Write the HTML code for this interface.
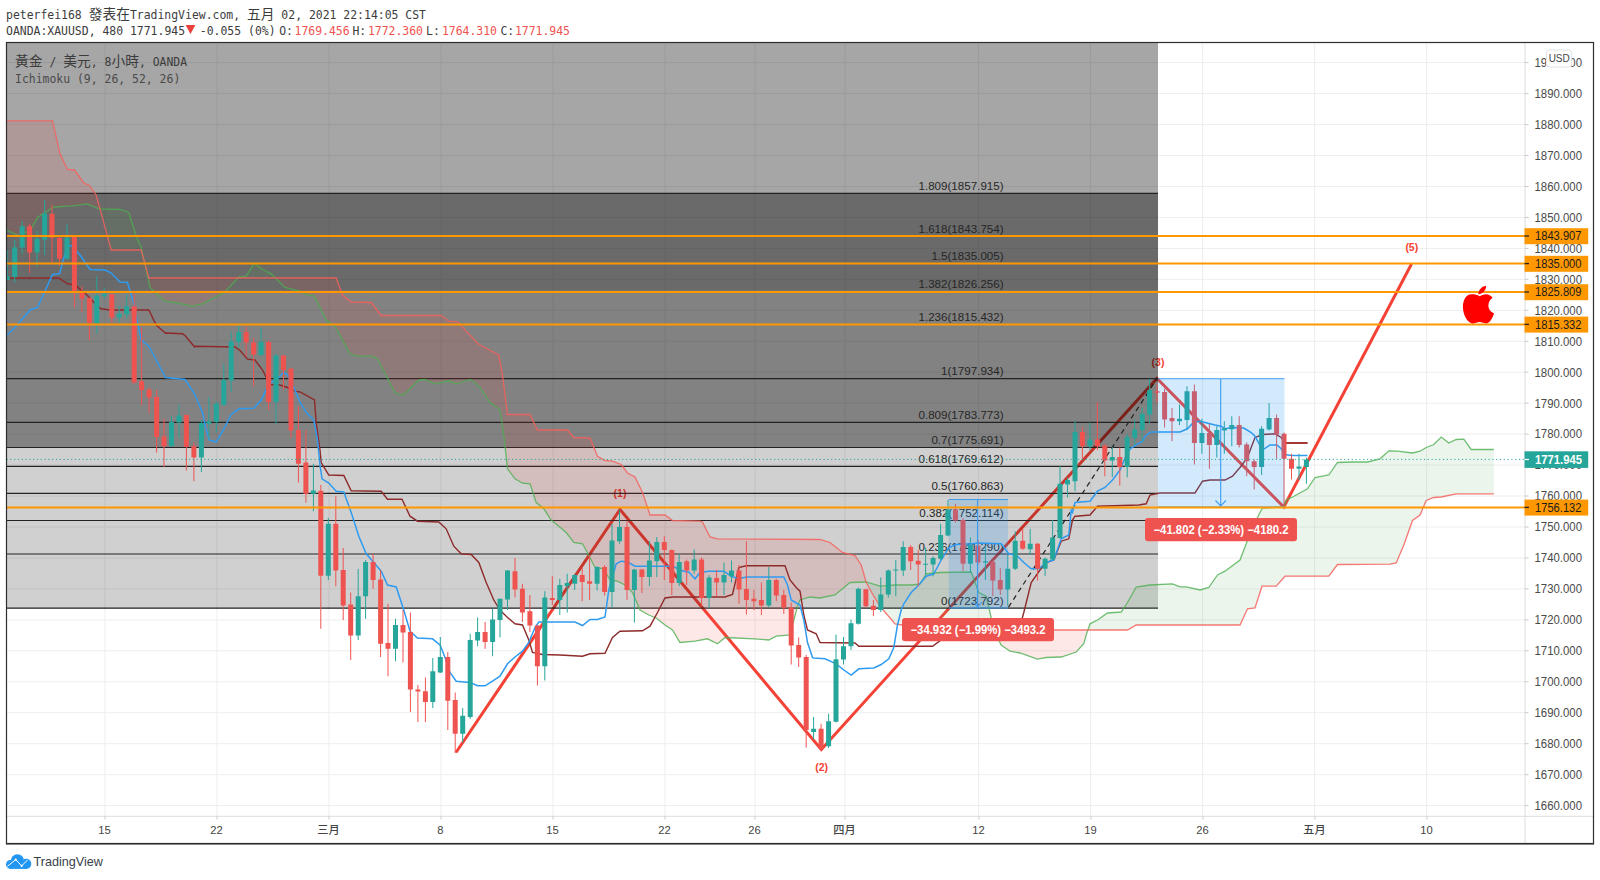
<!DOCTYPE html>
<html lang="zh-Hant"><head><meta charset="utf-8"><title>XAUUSD chart</title>
<style>html,body{margin:0;padding:0;background:#fff}body{width:1600px;height:880px;overflow:hidden}svg{display:block}</style>
</head><body>
<svg width="1600" height="880" viewBox="0 0 1600 880">
<defs><clipPath id="pane"><rect x="6.5" y="42.5" width="1518.5" height="773.8"/></clipPath></defs>
<rect width="1600" height="880" fill="#fff"/>
<path d="M105 42.5V816.3M217 42.5V816.3M329 42.5V816.3M441 42.5V816.3M553 42.5V816.3M665 42.5V816.3M755 42.5V816.3M845 42.5V816.3M978.6 42.5V816.3M1090.6 42.5V816.3M1202.6 42.5V816.3M1314.6 42.5V816.3M1426.6 42.5V816.3M6.5 805.6H1525M6.5 774.7H1525M6.5 743.7H1525M6.5 712.7H1525M6.5 681.8H1525M6.5 650.8H1525M6.5 619.9H1525M6.5 588.9H1525M6.5 558H1525M6.5 527H1525M6.5 496H1525M6.5 465.1H1525M6.5 434.1H1525M6.5 403.2H1525M6.5 372.2H1525M6.5 341.3H1525M6.5 310.3H1525M6.5 279.3H1525M6.5 248.4H1525M6.5 217.4H1525M6.5 186.5H1525M6.5 155.5H1525M6.5 124.6H1525M6.5 93.6H1525M6.5 62.6H1525" stroke="#eeeeee" stroke-width="1" fill="none"/>
<g clip-path="url(#pane)">
<polyline points="456,752.5 620,509.5 821.3,749.5 1157,378.5 1283.8,507 1411.5,264" fill="none" stroke="#f44336" stroke-width="3" stroke-linejoin="miter"/>
<text x="620" y="496.5" text-anchor="middle" font-family="'Liberation Sans', 'Noto Sans CJK TC', sans-serif" font-size="10.5" font-weight="bold" fill="#f44336">(1)</text>
<text x="1158" y="366" text-anchor="middle" font-family="'Liberation Sans', 'Noto Sans CJK TC', sans-serif" font-size="10.5" font-weight="bold" fill="#f44336">(3)</text>
<rect x="6.5" y="42.5" width="1151.5" height="150.8" fill="#000" fill-opacity="0.35"/>
<rect x="6.5" y="193.3" width="1151.5" height="97.6" fill="#000" fill-opacity="0.585"/>
<rect x="6.5" y="290.9" width="1151.5" height="156.5" fill="#000" fill-opacity="0.49"/>
<rect x="6.5" y="447.5" width="1151.5" height="160.7" fill="#000" fill-opacity="0.185"/>
<path d="M6.5 193.3H1158M6.5 378.6H1158M6.5 422.4H1158M6.5 447.5H1158M6.5 466.3H1158M6.5 493.4H1158M6.5 520.5H1158M6.5 554H1158M6.5 608.1H1158" stroke="#222" stroke-width="1.2" fill="none"/>
<line x1="1008.5" y1="607.1" x2="1157" y2="378.6" stroke="#222" stroke-width="1.2" stroke-dasharray="5 4"/>
<polygon points="6.5,230 7.5,230.5 8.5,230.9 9.5,231.4 10.5,231.9 11.5,232.3 12.5,232.8 13.5,233.2 14.5,233.7 15.5,234.2 16.5,234.6 17.5,235.1 18.5,235.6 19.5,236 20,236.2 20.5,235.9 21.5,235.2 22.5,234.6 23.5,233.9 24.5,233.2 25.5,232.6 26.5,231.9 27.5,231.2 28.5,230.6 29.5,229.9 30.5,229.2 31.2,228.8 31.5,228.3 32.5,226.5 33.5,224.7 34.5,222.9 35.5,221.1 36.5,219.3 37.5,217.5 38.5,216.9 39.5,216.2 40.5,215.6 41.5,214.9 42.5,214.3 43.5,213.6 44.5,213 45.5,212.3 46.5,211.7 47.5,211 48.5,210.4 49.5,209.7 50.5,209.1 51.5,208.5 52.5,207.8 53.5,207.2 53.8,207 54.5,206.9 55.5,206.9 56.5,206.8 57.5,206.8 58.5,206.7 59.5,206.6 60,206.6 60.5,206.6 61.5,206.5 62.5,206.4 63.5,206.3 64.5,206.3 65.5,206.2 66.5,206.2 67.5,206.1 68.5,206 69.5,205.9 70.5,205.9 71.5,205.8 72.5,205.8 73.5,205.6 74.5,205.5 75.5,205.3 76.5,205.2 77.5,205.1 78.5,204.9 79.5,204.8 80.5,204.7 81.5,204.6 82.5,204.4 83.5,204.3 83.8,204.2 84.5,204.2 85.5,204 86.5,203.9 87.5,203.8 88.5,204.2 89.5,204.6 90.5,205.1 91.5,205.5 92.5,206 93.5,206.4 94.5,206.9 95.5,207.3 96.2,207.6 96.5,207.8 97.5,208.2 98.5,208.6 98.8,208.8 99.5,208.8 100.5,208.8 100.5,210.6 99.5,206.9 98.8,204.2 98.5,203.2 97.5,199.6 96.5,195.9 96.2,195 95.5,193.9 94.5,192.5 93.5,191.1 92.5,189.7 91.5,188.3 90.5,186.9 89.5,185.5 88.5,185.1 87.5,184.6 86.5,184.2 85.5,183.8 84.5,183.3 83.8,183 83.5,182.6 82.5,181.2 81.5,179.8 80.5,178.4 79.5,177 78.5,175.6 77.5,174.2 76.5,172.8 75.5,171.4 74.5,170 73.5,169.9 72.5,169.9 71.5,169.8 70.5,169.7 69.5,169.6 68.5,169.6 67.5,169.5 66.5,167.4 65.5,165.3 64.5,163.2 63.5,161.1 62.5,159 61.5,156.9 60.5,154.8 60,153.8 59.5,151.6 58.5,147.2 57.5,142.8 56.5,138.3 55.5,133.9 54.5,129.6 53.8,126.2 53.5,125.2 52.5,120.8 51.5,120.8 50.5,120.8 49.5,120.8 48.5,120.8 47.5,120.8 46.5,120.8 45.5,120.8 44.5,120.8 43.5,120.8 42.5,120.8 41.5,120.8 40.5,120.8 39.5,120.8 38.5,120.8 37.5,120.8 36.5,120.8 35.5,120.8 34.5,120.8 33.5,120.8 32.5,120.8 31.5,120.8 31.2,120.8 30.5,120.8 29.5,120.8 28.5,120.8 27.5,120.8 26.5,120.8 25.5,120.8 24.5,120.8 23.5,120.8 22.5,120.8 21.5,120.8 20.5,120.8 20,120.8 19.5,120.8 18.5,120.8 17.5,120.8 16.5,120.8 15.5,120.8 14.5,120.8 13.5,120.8 12.5,120.8 11.5,120.8 10.5,120.8 9.5,120.8 8.5,120.8 7.5,120.8 6.5,120.8" fill="#f44336" fill-opacity="0.12"/>
<polygon points="100.5,208.8 101.5,208.8 102.5,208.9 103.5,208.9 104.5,209 105.5,209 106.5,209 107.5,209.1 108.5,209.1 109.5,209.1 110.5,209.2 111.2,209.2 111.5,209.2 112.5,209.2 113.5,209.3 114.5,209.3 115.5,209.3 116.5,209.4 117.5,209.4 118.5,209.4 119.5,209.5 120,209.5 120.5,209.7 121.5,210 122.5,210.4 123.5,210.7 124.5,211 125.5,211.4 126.5,211.7 127.5,212.1 128.5,212.4 128.8,212.5 129.5,214.9 130.5,218 131.5,221.2 132.5,224.4 133.5,227.5 134.5,230.7 135.5,233.9 136.2,236.2 136.5,236.8 137.5,239.1 138.5,241.3 139.5,243.6 140.5,245.8 141.2,247.5 141.5,248.6 142.5,253.2 143.5,257.8 144.5,262.4 144.5,262.1 143.5,258.4 142.5,254.7 141.5,250.9 141.2,250 140.5,250 139.5,250 138.5,250 137.5,250 136.5,250 136.2,250 135.5,250 134.5,250 133.5,250 132.5,250 131.5,250 130.5,250 129.5,250 128.8,250 128.5,250 127.5,250 126.5,250 125.5,250 124.5,250 123.5,250 122.5,250 121.5,250 120.5,250 120,250 119.5,250 118.5,250 117.5,250 116.5,250 115.5,250 114.5,250 113.5,250 112.5,250 111.5,250 111.2,250 110.5,247.2 109.5,243.6 108.5,239.9 107.5,236.2 106.5,232.6 105.5,228.9 104.5,225.2 103.5,221.6 102.5,217.9 101.5,214.2 100.5,210.6" fill="#43a047" fill-opacity="0.1"/>
<polygon points="144.5,262.4 145.5,266.9 146.5,271.5 147.5,276.1 148.5,280.6 148.8,281.8 149.5,285.2 150,287.5 150.5,288 151.5,288.9 152.5,289.8 153.5,290.7 154.5,291.6 155.5,292.5 156.5,293.5 157.5,294.4 158.5,295.3 159.5,296.2 160.5,297.1 161.5,298 162.5,299 163.5,299.9 164.5,300.8 165,301.2 165.5,301.3 166.5,301.4 167.5,301.6 168.5,301.7 169.5,301.8 170.5,301.9 171.5,302.1 172.5,302.2 173.5,302.3 174.5,302.4 175,302.5 175.5,302.6 176.5,302.8 177.5,303 178.5,303.2 179.5,303.5 180.5,303.7 181.5,303.9 182.5,304.1 183.5,304.3 184.5,304.5 185.5,304.8 186.5,305 187.5,305.2 188.5,305.4 189.5,305.6 190.5,305.8 191.5,306 192.5,306.2 193.5,306 194.5,305.8 195.5,305.5 196.5,305.2 197.5,305 198.5,304.8 199.5,304.5 200.5,304.2 201.5,304 202.5,303.8 203.5,303.2 204.5,302.7 205.5,302.2 206.5,301.7 207.5,301.1 208.5,300.6 209.5,300.1 210.5,299.6 211.5,299.1 212.5,298.5 213.5,298 214.5,297.5 215.5,297 216.5,296.4 217.5,295.9 218.5,295.4 219.5,294.9 220.5,294.4 221.5,293.8 222.5,293.3 223.5,292.8 224.5,292.3 225,292 225.5,291.5 226.5,290.4 227.5,289.3 228.5,288.2 229.5,287.1 230.5,286 231.5,284.9 232.5,283.8 233.5,282.7 234.5,281.6 235.5,280.5 236.5,279.5 237.5,278.4 238.5,277.3 238.5,278 237.5,278 236.5,278 235.5,278 234.5,278 233.5,278 232.5,278 231.5,278 230.5,278 229.5,278 228.5,278 227.5,278 226.5,278 225.5,278 225,278 224.5,278 223.5,278 222.5,278 221.5,278 220.5,278 219.5,278 218.5,278 217.5,278 216.5,278 215.5,278 214.5,278 213.5,278 212.5,278 211.5,278 210.5,278 209.5,278 208.5,278 207.5,278 206.5,278 205.5,278 204.5,278 203.5,278 202.5,278 201.5,278 200.5,278 199.5,278 198.5,278 197.5,278 196.5,278 195.5,278 194.5,278 193.5,278 192.5,278 191.5,278 190.5,278 189.5,278 188.5,278 187.5,278 186.5,278 185.5,278 184.5,278 183.5,278 182.5,278 181.5,278 180.5,278 179.5,278 178.5,278 177.5,278 176.5,278 175.5,278 175,278 174.5,278 173.5,278 172.5,278 171.5,278 170.5,278 169.5,278 168.5,278 167.5,278 166.5,278 165.5,278 165,278 164.5,278 163.5,278 162.5,278 161.5,278 160.5,278 159.5,278 158.5,278 157.5,278 156.5,278 155.5,278 154.5,278 153.5,278 152.5,278 151.5,278 150.5,278 150,278 149.5,278 148.8,278 148.5,277.1 147.5,273.3 146.5,269.6 145.5,265.9 144.5,262.1" fill="#f44336" fill-opacity="0.12"/>
<polygon points="238.5,277.3 238.8,277 239.5,276.9 240.5,276.8 241.5,276.7 242.5,276.6 243.5,276.5 244.5,276.4 245.5,276.3 246.2,276.2 246.5,275.8 247.5,274.2 248.5,272.6 249.5,271 250.5,269.4 251.5,267.8 252.5,266.2 253.5,264.6 254.5,263 255.5,263.9 256.5,264.7 257.5,265.6 258.5,266.4 259.5,267.3 260.5,268.1 261.2,268.8 261.5,268.9 262.5,269.4 263.5,269.9 264.5,270.4 265.5,270.9 266.5,271.4 267.5,271.9 268.5,272.4 269.5,272.9 270.5,273.4 271.2,273.8 271.5,274 272.5,275 273.5,276 274.5,277 275.5,278 275.5,278 274.5,278 273.5,278 272.5,278 271.5,278 271.2,278 270.5,278 269.5,278 268.5,278 267.5,278 266.5,278 265.5,278 264.5,278 263.5,278 262.5,278 261.5,278 261.2,278 260.5,278 259.5,278 258.5,278 257.5,278 256.5,278 255.5,278 254.5,278 253.5,278 252.5,278 251.5,278 250.5,278 249.5,278 248.5,278 247.5,278 246.5,278 246.2,278 245.5,278 244.5,278 243.5,278 242.5,278 241.5,278 240.5,278 239.5,278 238.8,278 238.5,278" fill="#43a047" fill-opacity="0.1"/>
<polygon points="275.5,278 276.5,279 277.5,280 278.5,281 279.5,282 280.5,283 281.5,284 282.5,285 283.5,286 284.5,287 285,287.5 285.5,287.6 286.5,287.9 287.5,288.1 288.5,288.4 289.5,288.6 290.5,288.9 291.5,289.1 292.5,289.4 293.5,289.6 294.5,289.9 295.5,290.1 296.5,290.4 297.5,290.6 298.5,290.9 299.5,291.1 300,291.2 300.5,291.5 301.5,292 302.5,292.5 303.5,293 304.5,293.5 305.5,294 306.5,294.5 307.5,295 308.5,295.2 309.5,295.4 310.5,295.5 311.5,295.7 312.5,295.9 313.5,296.1 314.5,296.2 315.5,298.3 316.5,300.3 317.5,302.3 318.5,304.3 319.5,306.4 320.5,308.4 321.5,310.4 322.5,312.4 323.5,314.4 324.5,316.5 325.5,318.5 326.2,320 326.5,320.2 327.5,320.9 328.5,321.6 329.5,322.3 330.5,323 331.5,323.8 332.5,324.5 333.5,325.2 334.5,325.9 335,326.2 335.5,327.2 336.2,328.5 336.5,329 337.5,330.8 338.5,332.7 339.5,334.5 340.5,336.3 341.5,338.2 342.5,340 343.5,341.8 344.5,343.7 345.5,345.5 346.5,347.3 347.5,349.2 348.5,351 349.5,352.8 350,353.8 350.5,353.9 351.2,354.2 351.5,354.2 352.5,354.6 353.5,354.9 354.5,355.2 355.5,355.6 356.5,355.9 357.5,356.2 358.5,356.2 359.5,356.2 360.5,356.2 361.5,356.2 362.5,356.2 363.5,356.2 364.5,356.2 365.5,356.2 366.5,356.2 367.5,356.2 368.5,356.2 369.5,356.2 370.5,356.2 371.2,356.2 371.5,356.2 372.5,356.2 373.5,356.8 374.5,357.2 375.5,357.8 376.5,358.2 377.5,358.8 378.5,360.7 379.5,362.6 380.5,364.5 381.2,366 381.5,366.5 382.5,368.4 383.5,370.3 384.5,372.2 385.5,374.2 386.5,376.1 387.5,378 388.5,380 389.5,381.9 390.5,383.8 391.5,385.8 392.5,387.7 393.5,389.6 394.5,391.5 395,392.5 395.5,392.7 396.5,393 397.5,393.3 398.5,393.7 399.5,394 400.5,394.3 401.5,394.7 402.5,395 403.5,394.2 404.5,393.5 405.5,392.8 406.5,392 407.5,391.2 408.5,390.2 409.5,389.2 410.5,388.2 411.5,387.2 412.5,386.2 413.5,385.2 414.5,384.2 415.5,383.2 416.5,382.2 417.5,381.2 418.5,380.2 418.8,380 419.5,379.9 420.5,379.9 421.5,379.8 422.5,379.7 423.5,379.6 424.5,379.5 425,379.5 425.5,379.7 426.5,380.1 427.5,380.6 428.5,381 429.5,381.4 430.5,381.8 431.5,382.3 432.5,382.7 433.5,383.1 434.5,383.5 435,383.8 435.5,383.6 436.5,383.4 437.5,383.2 438.5,383 439.5,382.8 440.5,382.6 441.2,382.4 441.5,382.3 442.5,382.1 443.5,381.9 444.5,381.7 445.5,381.5 446.5,381.2 447.5,381 448.5,380.8 448.8,380.8 449.5,381.1 450.5,381.4 451.5,381.9 452.5,382.2 453.5,382.6 454.5,383.1 455.5,383.4 456.2,383.8 456.5,383.7 457.5,383.4 458.5,383.1 459.5,382.7 460.5,382.4 461.5,382.1 462.5,381.8 463.5,381.5 464.5,381.2 465.5,380.9 466.5,380.6 467.5,380.3 468.5,380 469.5,379.7 470,379.5 470.5,379.8 471.5,380.4 472.5,381 473.5,381.6 474.5,382.2 475,382.5 475.5,383 476.5,384 477.5,385 478.5,386 478.8,386.2 479.5,387 480,387.5 480.5,388.2 481.5,389.8 482.5,391.2 483.5,392.8 484.5,394.2 485.5,395.8 486.5,397.2 487.5,398.8 488.5,400.2 489.5,401.8 490,402.5 490.5,402.9 491.5,403.6 492.5,404.2 493.5,404.9 494.5,405.6 495.5,406.4 496.5,407.1 497.5,407.8 498.5,408.4 498.8,408.6 499.5,409.1 500,409.5 500.5,412.9 501.5,419.7 502.5,426.5 503.5,433.3 503.8,435 504.5,441.8 505.5,450.8 506.5,459.8 507.5,468.8 508.5,470.1 509.5,471.4 510.5,472.8 511.5,474.1 512.5,475.4 513.5,476.8 514.5,478.1 515,478.8 515.5,479.1 516.5,479.6 517.5,480.2 518.5,480.9 519.5,481.4 520.5,482.1 521.5,482.6 522.5,483.2 523.5,483.3 524.5,483.4 525.5,483.4 526.5,483.5 527.5,483.6 528.5,483.6 529.5,483.7 530,483.8 530.5,485.2 531.5,488.2 532.5,491.2 533.5,494.2 534.5,497.2 535.5,500.2 536.2,502.5 536.5,502.7 537.5,503.5 538.5,504.4 539.5,505.2 540.5,506 541.5,506.9 542.5,507.7 543.5,508.5 543.8,508.8 544.5,509.9 545.5,511.4 546.5,512.9 547.5,514.4 548.5,515.9 549.5,517.4 550.5,518.9 551.2,520 551.5,520.2 552.5,521 553.5,521.9 554.5,522.7 555.5,523.5 556.5,524.4 557.5,525.2 558.5,526 558.8,526.2 559.5,526.9 560.5,527.7 561.5,528.5 562.5,529.4 563.5,530.2 564.5,531 565.5,531.9 566.2,532.5 566.5,532.8 567.5,534.2 568.5,535.5 569.5,536.8 570.5,538.2 571.5,539.5 572.5,540.8 573.5,542.2 573.8,542.5 574.5,542.6 575.5,542.8 576.5,542.9 577.5,543 578.5,543.2 579.5,543.3 580.5,543.5 581.5,543.6 582.5,543.8 583.5,545.6 584.5,547.4 585.5,549.2 586.5,551.1 587.5,552.9 588.5,554.8 589.5,556.6 590,557.5 590.5,558.5 591.5,560.5 592.5,562.5 593.5,564.5 594.5,566.5 595,567.5 595.5,567.6 596.5,567.7 597.5,567.9 598.5,568 599.5,568.1 600.5,568.3 601.5,568.4 602.5,568.6 603.5,568.7 603.8,568.8 604.5,570.1 605,571 605.5,571.9 606.5,573.7 607.5,575.5 608.5,577.3 609.5,579.1 610,580 610.5,580.1 611.5,580.2 612.5,580.4 613.5,580.6 614.5,580.8 615.5,580.9 616.5,581.1 617.5,581.2 618.5,581.8 619.5,582.2 620.5,582.8 621.2,583.1 621.5,583.2 622.5,583.8 623.5,584.2 624.5,584.8 625,585 625.5,585.5 626.5,586.5 627.5,587.5 628.5,588.5 629.5,589.5 630.5,590.5 631.5,591.5 632.5,592.5 633.5,594.8 634.5,597.2 635,598.3 635.5,599.5 636.5,601.8 637.5,604.2 638.5,606.5 639.5,608.8 640,610 640.5,610.3 641.5,610.9 642.5,611.4 643.5,612 644.5,612.6 645.5,613.1 646.5,613.7 647.5,614.3 648.5,614.9 648.8,615 649.5,615.3 650,615.5 650.5,615.7 651.5,616.1 652.5,616.5 653.5,616.9 654.5,617.3 655.5,617.7 656.2,618 656.5,618.2 657.5,619 658.5,619.8 659.5,620.6 660.5,621.4 661.5,622.2 662.5,623 663.5,623.8 664.5,624.6 665,625 665.5,625.3 666.5,626 667.5,626.7 668.5,627.3 669.5,628 670.5,628.7 671.5,629.3 672.5,630 673.5,631.7 674.5,633.3 675.5,635 676.5,636.7 677.5,638.3 678.5,640 679.5,641.7 680,642.5 680.5,642.5 681.5,642.4 682.5,642.3 683.5,642.2 684.5,642.1 685.5,642 686.5,642 687.5,641.9 688.5,641.8 689.5,641.7 690.5,641.6 691.5,641.5 692.5,641.5 693.5,641.4 694.5,641.3 695,641.2 695.5,641.1 696.5,641 697.5,640.8 698.5,640.5 699.5,640.4 700,640.2 700.5,640.1 701.5,640 702.5,639.8 703.5,639.5 704.5,639.4 705.5,639.1 706.5,639 707.5,638.8 708.5,639.2 709.5,639.8 710,640 710.5,640.2 711.5,640.8 712.5,641.2 713.5,641.8 714.5,642.2 715.5,642.8 716.5,643.2 717.5,643.8 718.5,642.9 719.5,642.1 720.5,641.2 721.5,640.4 722.5,639.6 723.5,638.8 724.5,637.9 725,637.5 725.5,637.5 726.5,637.6 727.5,637.6 728.5,637.6 729.5,637.7 730.5,637.7 731.5,637.8 732.5,637.8 733.5,637.9 734.5,637.9 735.5,637.9 736.5,638 737.5,638 738.5,638.1 739.5,638.1 740.5,638.1 741.5,638.2 742.5,638.2 743.5,638.3 744.5,638.3 745.5,638.4 746.5,638.4 747.5,638.4 748.5,638.5 749.5,638.5 750.5,638.6 751.5,638.6 752.5,638.6 753.5,638.7 754.5,638.7 755,638.8 755.5,638.8 756.5,638.9 757.5,639 758.5,639.1 759.5,639.2 760.5,639.2 761.5,639.3 762.5,639.4 763.5,639.5 764.5,639.6 765.5,639.7 766.5,639.8 767.5,639.9 768.5,640 768.8,640 769.5,639.6 770.5,639.1 771.5,638.6 772.5,638.1 773.5,637.6 774.5,637.1 775.5,636.6 776.2,636.2 776.5,636.2 777.5,636.1 778.5,636 779.5,636 780.5,635.9 781.5,635.8 782.5,635.7 783.5,635.6 784.5,635.5 785.5,635.4 786.5,635.3 787.5,635.2 788.5,635.1 789.5,635 790,635 790.5,633.1 791.5,629.2 792.5,625.4 793.5,621.6 794.5,617.8 795.5,613.9 796.5,610.1 797.5,606.2 798.5,603.8 799.5,601.2 800,600 800.5,599.9 801.5,599.5 802.5,599.2 803.5,599 804.5,598.6 805.5,598.4 806.5,598 807.5,597.8 808.5,597.5 809.5,597.1 810,597 810.5,597 811.5,597.1 812.5,597.2 813.5,597.4 814.5,597.5 815.5,597.5 816.5,597.6 817.5,597.8 818.5,597.9 819.5,598 820,598 820.5,597.9 821.5,597.7 822.5,597.5 823.5,597.3 824.5,597.1 825.5,596.9 826.5,596.7 827.5,596.5 828.5,596.3 829.5,596.1 830,596 830.5,595.9 831.5,595.7 832.5,595.5 833.5,595.3 834.5,595.1 835,595 835.5,594.6 836.5,593.8 837.5,592.9 838.5,592.1 839.5,591.2 840.5,590.4 841.5,589.6 842.5,588.8 843.5,587.9 844.5,587.1 845.5,586.2 846.5,585.4 847.5,584.6 848.5,583.8 849.5,582.9 850,582.5 850.5,582.5 851.5,582.5 852.5,582.4 853.5,582.4 854.5,582.4 855,582.3 855.5,582.3 856.5,582.3 857.5,582.3 858.5,582.2 859.5,582.2 860.5,582.2 861.2,582.2 861.5,582.1 862.5,582.1 863.5,582.1 864.5,582.1 865.5,582 866.2,582 866.2,582.5 865.5,579.9 864.5,576.4 863.5,572.9 862.5,569.4 861.5,565.9 861.2,565 860.5,563.9 859.5,562.3 858.5,560.8 857.5,559.3 856.5,557.8 855.5,556.3 855,555.5 854.5,555.4 853.5,555.1 852.5,554.9 851.5,554.7 850.5,554.4 850,554.3 849.5,554.2 848.5,553.9 847.5,553.7 846.5,553.5 845.5,553.2 844.5,553 843.5,552.7 842.5,552.5 841.5,551.7 840.5,550.9 839.5,550.1 838.5,549.3 837.5,548.5 836.5,547.7 835.5,546.9 835,546.5 834.5,546.1 833.5,545.3 832.5,544.5 831.5,543.7 830.5,542.9 830,542.5 829.5,542.4 828.5,542 827.5,541.8 826.5,541.5 825.5,541.1 824.5,540.9 823.5,540.5 822.5,540.2 821.5,540 820.5,539.6 820,539.5 819.5,539.5 818.5,539.5 817.5,539.5 816.5,539.5 815.5,539.5 814.5,539.5 813.5,539.5 812.5,539.4 811.5,539.4 810.5,539.4 810,539.4 809.5,539.4 808.5,539.4 807.5,539.4 806.5,539.4 805.5,539.4 804.5,539.4 803.5,539.4 802.5,539.4 801.5,539.4 800.5,539.4 800,539.4 799.5,539.4 798.5,539.3 797.5,539.3 796.5,539.3 795.5,539.3 794.5,539.3 793.5,539.3 792.5,539.3 791.5,539.3 790.5,539.3 790,539.3 789.5,539.3 788.5,539.3 787.5,539.3 786.5,539.3 785.5,539.2 784.5,539.2 783.5,539.2 782.5,539.2 781.5,539.2 780.5,539.2 779.5,539.2 778.5,539.2 777.5,539.2 776.5,539.2 776.2,539.2 775.5,539.2 774.5,539.2 773.5,539.2 772.5,539.2 771.5,539.1 770.5,539.1 769.5,539.1 768.8,539.1 768.5,539.1 767.5,539.1 766.5,539.1 765.5,539.1 764.5,539.1 763.5,539.1 762.5,539.1 761.5,539.1 760.5,539.1 759.5,539.1 758.5,539 757.5,539 756.5,539 755.5,539 755,539 754.5,539 753.5,539 752.5,539 751.5,539 750.5,539 749.5,539 748.5,539 747.5,539 746.5,539 745.5,539 744.5,538.9 743.5,538.9 742.5,538.9 741.5,538.9 740.5,538.9 739.5,538.9 738.5,538.9 737.5,538.9 736.5,538.9 735.5,538.9 734.5,538.9 733.5,538.9 732.5,538.9 731.5,538.9 730.5,538.8 729.5,538.8 728.5,538.8 727.5,538.8 726.5,538.8 725.5,538.8 725,538.8 724.5,538.8 723.5,538.8 722.5,538.8 721.5,538.8 720.5,538.8 719.5,538.8 718.5,538.8 717.5,538.8 716.5,538.5 715.5,538.3 714.5,538 713.5,537.8 712.5,537.6 711.5,537.4 710.5,537.1 710,537 709.5,536 708.5,534 707.5,532 706.5,530 705.5,528 704.5,526 703.5,524 702.5,522 701.5,521.7 700.5,521.4 700,521.2 699.5,521.2 698.5,521.2 697.5,521.2 696.5,521.2 695.5,521.1 695,521.1 694.5,521.1 693.5,521.1 692.5,521 691.5,521 690.5,521 689.5,521 688.5,520.9 687.5,520.9 686.5,520.9 685.5,520.9 684.5,520.8 683.5,520.8 682.5,520.8 681.5,520.7 680.5,520.7 680,520.7 679.5,520.7 678.5,520.7 677.5,520.6 676.5,520.6 675.5,520.6 674.5,520.6 673.5,520.5 672.5,520.5 671.5,519.8 670.5,519 669.5,518.3 668.5,517.6 667.5,516.8 666.5,516.1 665.5,515.4 665,515 664.5,515 663.5,515 662.5,515 661.5,515 660.5,515 659.5,515 658.5,515 657.5,515 656.5,515 656.2,515 655.5,515 654.5,515 653.5,515 652.5,515 651.5,515 650.5,515 650,515 649.5,513.5 648.8,511.2 648.5,510.5 647.5,507.5 646.5,504.5 645.5,501.5 644.5,498.5 643.5,495.5 642.5,492.5 641.5,490.4 640.5,488.4 640,487.3 639.5,486.3 638.5,484.2 637.5,482.2 636.5,480.1 635.5,478 635,477 634.5,476.7 633.5,476.2 632.5,475.7 631.5,475.1 630.5,474.6 629.5,474.1 628.5,473.5 627.5,473 626.5,471.6 625.5,470.3 625,469.6 624.5,468.9 623.5,467.6 622.5,466.2 621.5,464.8 621.2,464.5 620.5,464.2 619.5,463.9 618.5,463.5 617.5,463.1 616.5,462.7 615.5,462.4 614.5,462 613.5,461.6 612.5,461.2 611.5,461.1 610.5,461.1 610,461 609.5,460.9 608.5,460.9 607.5,460.8 606.5,460.6 605.5,460.6 605,460.5 604.5,460.2 603.8,459.8 603.5,459.6 602.5,459.1 601.5,458.5 600.5,457.9 599.5,457.4 598.5,456.8 597.5,456.2 596.5,453.8 595.5,451.4 595,450.2 594.5,448.9 593.5,446.5 592.5,444.1 591.5,441.6 590.5,439.2 590,438 589.5,438 588.5,438 587.5,437.9 586.5,437.9 585.5,437.9 584.5,437.8 583.5,437.8 582.5,437.8 581.5,437.7 580.5,437.7 579.5,437.7 578.5,437.6 577.5,437.6 576.5,437.6 575.5,437.6 574.5,437.5 573.8,437.5 573.5,437.2 572.5,436 571.5,434.8 570.5,433.6 569.5,432.4 568.5,431.2 567.5,430 566.5,430 566.2,430 565.5,430 564.5,430 563.5,430 562.5,430 561.5,430 560.5,430 559.5,430 558.8,430 558.5,430 557.5,430 556.5,430 555.5,430 554.5,430 553.5,430 552.5,430 551.5,430 551.2,430 550.5,430 549.5,430 548.5,430 547.5,430 546.5,430 545.5,430 544.5,430 543.8,430 543.5,430 542.5,430 541.5,430 540.5,430 539.5,430 538.5,430 537.5,430 536.5,427.9 536.2,427.4 535.5,425.9 534.5,423.8 533.5,421.7 532.5,419.7 531.5,417.6 530.5,415.5 530,414.5 529.5,414.5 528.5,414.5 527.5,414.5 526.5,414.5 525.5,414.5 524.5,414.5 523.5,414.5 522.5,414.5 521.5,414.5 520.5,414.5 519.5,414.5 518.5,414.5 517.5,414.5 516.5,414.5 515.5,414.5 515,414.5 514.5,414.5 513.5,414.5 512.5,414.5 511.5,414.5 510.5,414.5 509.5,414.5 508.5,414.5 507.5,414.5 506.5,406.6 505.5,398.7 504.5,390.8 503.8,384.9 503.5,382.9 502.5,375 501.5,369.7 500.5,364.3 500,361.7 499.5,359 498.8,355 498.5,354.9 497.5,354.3 496.5,353.8 495.5,353.3 494.5,352.7 493.5,352.2 492.5,351.7 491.5,351.1 490.5,350.6 490,350.3 489.5,350.1 488.5,349.5 487.5,349 486.5,348.5 485.5,347.9 484.5,347.4 483.5,346.9 482.5,346.3 481.5,345.8 480.5,345.3 480,345 479.5,344.8 478.8,344.5 478.5,344.2 477.5,343.2 476.5,342.1 475.5,341 475,340.5 474.5,339.9 473.5,338.9 472.5,337.8 471.5,336.7 470.5,335.7 470,335.1 469.5,334.6 468.5,333.5 467.5,332.5 466.5,331.4 465.5,330.3 464.5,329.2 463.5,328.2 462.5,327.1 461.5,326 460.5,325 459.5,323.9 458.5,322.8 457.5,321.8 456.5,321.7 456.2,321.7 455.5,321.6 454.5,321.6 453.5,321.5 452.5,321.5 451.5,321.4 450.5,321.4 449.5,321.3 448.8,321.2 448.5,321.1 447.5,320.3 446.5,319.5 445.5,318.8 444.5,318 443.5,317.2 442.5,316.5 441.5,315.7 441.2,315.5 440.5,315.5 439.5,315.5 438.5,315.5 437.5,315.5 436.5,315.5 435.5,315.5 435,315.5 434.5,315.5 433.5,315.5 432.5,315.5 431.5,315.5 430.5,315.5 429.5,315.5 428.5,315.5 427.5,315.5 426.5,315.5 425.5,315.5 425,315.5 424.5,315.5 423.5,315.5 422.5,315.5 421.5,315.5 420.5,315.5 419.5,315.5 418.8,315.5 418.5,315.5 417.5,315.5 416.5,315.5 415.5,315.5 414.5,315.5 413.5,315.5 412.5,315.5 411.5,315.5 410.5,315.5 409.5,315.5 408.5,315.5 407.5,315.5 406.5,315.5 405.5,315.5 404.5,315.5 403.5,315.5 402.5,315.5 401.5,315.5 400.5,315.5 399.5,315.5 398.5,315.5 397.5,315.5 396.5,315.5 395.5,315.5 395,315.5 394.5,315.5 393.5,315.5 392.5,315.5 391.5,315.5 390.5,315.5 389.5,315.5 388.5,315.5 387.5,315.5 386.5,315.5 385.5,315.5 384.5,315.5 383.5,315.5 382.5,315.5 381.5,315.5 381.2,315.5 380.5,314.5 379.5,313.2 378.5,311.9 377.5,310.6 376.5,309.3 375.5,308 374.5,306.7 373.5,305.4 372.5,304.1 371.5,302.8 371.2,302.5 370.5,302.5 369.5,302.5 368.5,302.4 367.5,302.4 366.5,302.4 365.5,302.4 364.5,302.3 363.5,302.3 362.5,302.3 361.5,302.3 360.5,302.2 359.5,302.2 358.5,302.2 357.5,302.2 356.5,302.1 355.5,302.1 354.5,302.1 353.5,302.1 352.5,302 351.5,302 351.2,302 350.5,301.4 350,301 349.5,300.6 348.5,299.8 347.5,299 346.5,298.2 345.5,297.4 344.5,296.6 343.5,295.8 342.5,295 341.5,292.3 340.5,289.6 339.5,286.8 338.5,284.1 337.5,281.4 336.5,278.7 336.2,278 335.5,278 335,278 334.5,278 333.5,278 332.5,278 331.5,278 330.5,278 329.5,278 328.5,278 327.5,278 326.5,278 326.2,278 325.5,278 324.5,278 323.5,278 322.5,278 321.5,278 320.5,278 319.5,278 318.5,278 317.5,278 316.5,278 315.5,278 314.5,278 313.5,278 312.5,278 311.5,278 310.5,278 309.5,278 308.5,278 307.5,278 306.5,278 305.5,278 304.5,278 303.5,278 302.5,278 301.5,278 300.5,278 300,278 299.5,278 298.5,278 297.5,278 296.5,278 295.5,278 294.5,278 293.5,278 292.5,278 291.5,278 290.5,278 289.5,278 288.5,278 287.5,278 286.5,278 285.5,278 285,278 284.5,278 283.5,278 282.5,278 281.5,278 280.5,278 279.5,278 278.5,278 277.5,278 276.5,278 275.5,278" fill="#f44336" fill-opacity="0.12"/>
<polygon points="866.2,582 866.5,582.1 867.5,582.4 868.5,582.7 869.5,583 870.5,583.3 871.5,583.6 872.5,583.9 873.5,584.2 873.8,584.3 874.5,584.5 875.5,584.9 876.5,585.2 877.5,585.5 878.5,585.8 879.5,586.1 880,586.2 880.5,586.2 881.5,586.1 882.5,586 883.5,586 884.5,585.9 885.5,585.8 886.5,585.7 887.5,585.6 888.5,585.5 889.5,585.5 890.5,585.4 891.5,585.3 892.5,585.2 893.5,585.1 894.5,585 895,585 895.5,585 896.5,585 897.5,585 898.5,585 899.5,585 900.5,585 901.5,585 902.5,585 903.5,585 904.5,585 905.5,585 906.5,585 907.5,585 908.5,585 909.5,585 910.5,585 911.5,585 912.5,585 913.5,584.8 914.5,584.7 915.5,584.5 916.5,584.3 917.5,584.2 918.5,584 919.5,583.8 920,583.8 920.5,583 921.5,581.4 922.5,579.8 923.5,578.1 924.5,576.5 925.5,575 926.2,573.8 926.5,573.7 927.5,573.6 928.5,573.5 929.5,573.5 930.5,573.4 931.5,573.3 932.5,573.2 933.5,573.1 934.5,573 935.5,572.9 936.5,572.8 937.5,572.7 938.5,572.6 939.5,572.5 940,572.5 940.5,572.5 941.5,572.5 942.5,572.5 943.5,572.4 944.5,572.4 945.5,572.4 946.5,572.4 947.5,572.4 948.5,572.4 949.5,572.3 950.5,572.3 951.5,572.3 952.5,572.3 953.5,572.3 954.5,572.3 955.5,572.3 956.5,572.2 957.5,572.2 958.5,572.2 959.5,572.2 960.5,572.2 961.5,572.2 962.5,572.1 963.5,572.1 964.5,572.1 965.5,572.1 966.5,572.1 967.5,572.1 968.5,572 969.5,572 970.5,572 971.2,572 971.5,572.7 972.5,575.4 973.5,578.1 974.5,580.9 975.5,583.6 976.5,586.4 977.5,589.1 978.5,591.8 978.8,592.5 979.5,592.9 980.5,593.4 981.5,593.9 982.5,594.4 983.5,594.9 984.5,595.4 985.5,595.9 986.2,596.2 986.5,597.3 987.5,601.7 988.5,606 989.5,610.3 990,612.5 990.5,614.8 991.5,619.5 992.5,624.2 993.5,628.8 993.5,628 992.5,628 991.5,627.9 990.5,627.9 990,627.9 989.5,627.9 988.5,627.8 987.5,627.8 986.5,627.8 986.2,627.8 985.5,627.7 984.5,627.7 983.5,627.7 982.5,627.6 981.5,627.6 980.5,627.6 979.5,627.5 978.8,627.5 978.5,627.5 977.5,627.5 976.5,627.4 975.5,627.4 974.5,627.4 973.5,627.3 972.5,627.3 971.5,627.3 971.2,627.3 970.5,627.2 969.5,627.2 968.5,627.2 967.5,627.1 966.5,627.1 965.5,627.1 964.5,627 963.5,627 962.5,627 961.5,627 960.5,626.9 959.5,626.9 958.5,626.9 957.5,626.8 956.5,626.8 955.5,626.8 954.5,626.7 953.5,626.7 952.5,626.7 951.5,626.6 950.5,626.6 949.5,626.6 948.5,626.5 947.5,626.5 946.5,626.5 945.5,626.4 944.5,626.4 943.5,626.4 942.5,626.3 941.5,626.3 940.5,626.3 940,626.2 939.5,626.2 938.5,626.2 937.5,626.2 936.5,626.1 935.5,626.1 934.5,626.1 933.5,626 932.5,626 931.5,626 930.5,625.9 929.5,625.9 928.5,625.9 927.5,625.8 926.5,625.8 926.2,625.8 925.5,625.8 924.5,625.7 923.5,625.7 922.5,625.7 921.5,625.6 920.5,625.6 920,625.6 919.5,625.6 918.5,625.5 917.5,625.5 916.5,625.5 915.5,625.4 914.5,625.4 913.5,625.4 912.5,625.3 911.5,625.3 910.5,625.3 909.5,625.2 908.5,625.2 907.5,625.2 906.5,625.1 905.5,625.1 904.5,625.1 903.5,625 902.5,625 901.5,624.8 900.5,624.7 899.5,624.5 898.5,624.3 897.5,624.2 896.5,624 895.5,623.8 895,623.8 894.5,623.2 893.5,622 892.5,620.8 891.5,619.7 890.5,618.5 889.5,617.3 888.5,616.2 887.5,615 886.5,613.8 885.5,612.7 884.5,611.5 883.5,610.3 882.5,609.2 881.5,608 880.5,606.8 880,606.2 879.5,605.5 878.5,603.9 877.5,602.2 876.5,600.6 875.5,599 874.5,597.5 873.8,596.2 873.5,595.8 872.5,594 871.5,592.1 870.5,590.3 869.5,588.5 868.5,586.6 867.5,584.8 866.5,583 866.2,582.5" fill="#43a047" fill-opacity="0.1"/>
<polygon points="993.5,628.8 993.8,630 994.5,631.5 995.5,633.5 996.5,635.5 997.5,637.5 998.5,639.5 999.5,641.5 1000.5,643.5 1001.2,645 1001.5,645.2 1002.5,645.9 1003.5,646.6 1004.5,647.3 1005.5,648 1006.5,648.8 1007.5,649.5 1008.5,650.2 1009.5,650.9 1010,651.2 1010.5,651.3 1011.5,651.5 1012.5,651.7 1013.5,651.9 1014.5,652 1015.5,652.2 1016.5,652.4 1017.5,652.6 1018.5,652.7 1019.5,652.9 1020,653 1020.5,653.2 1021.5,653.5 1022.5,653.9 1023.5,654.2 1024.5,654.6 1025.5,655 1026.5,655.3 1027.5,655.7 1028.5,656 1029.5,656.4 1030.5,656.8 1031.5,657.1 1032.5,657.5 1033.5,657.8 1034.5,658.2 1035.5,658.5 1036.5,658.9 1037.5,659.2 1038.5,659 1039.5,658.9 1040.5,658.6 1041.5,658.5 1042.5,658.2 1043.5,658 1044.5,657.9 1045.5,657.6 1046.2,657.5 1046.5,657.5 1047.5,657.5 1048.5,657.4 1049.5,657.4 1050.5,657.4 1051.5,657.3 1052.5,657.3 1053.5,657.3 1053.8,657.2 1054.5,657.2 1055.5,657.2 1056.5,657.2 1057.5,657.1 1058.5,657.1 1059.5,657.1 1060.5,657 1061.2,657 1061.5,656.9 1062.5,656.6 1063.5,656.2 1064.5,655.9 1065.5,655.6 1066.5,655.2 1067.5,654.9 1068.5,654.6 1069.5,654.2 1070.5,653.9 1071.5,653.6 1072.5,653.2 1073.5,652.9 1074.5,652.6 1075.5,652.2 1076.2,652 1076.5,651.7 1077.5,650.6 1078.5,649.5 1079.5,648.4 1080.5,647.3 1081.5,646.2 1082.5,645.1 1083.5,644 1083.8,643.8 1084.5,641.1 1085.5,637.6 1086.2,635 1086.5,634.2 1087.5,631.2 1088.5,628.2 1088.5,630 1087.5,630 1086.5,630 1086.2,630 1085.5,630 1084.5,630 1083.8,630 1083.5,630 1082.5,630 1081.5,630 1080.5,630 1079.5,630 1078.5,630 1077.5,630 1076.5,630 1076.2,630 1075.5,630 1074.5,630 1073.5,630 1072.5,630 1071.5,630 1070.5,630 1069.5,630 1068.5,630 1067.5,630 1066.5,630 1065.5,630 1064.5,630 1063.5,630 1062.5,630 1061.5,630 1061.2,630 1060.5,630 1059.5,630 1058.5,630 1057.5,630 1056.5,630 1055.5,630 1054.5,630 1053.8,630 1053.5,630 1052.5,630 1051.5,629.9 1050.5,629.9 1049.5,629.9 1048.5,629.8 1047.5,629.8 1046.5,629.8 1046.2,629.8 1045.5,629.7 1044.5,629.7 1043.5,629.7 1042.5,629.6 1041.5,629.6 1040.5,629.6 1039.5,629.5 1038.5,629.5 1037.5,629.5 1036.5,629.4 1035.5,629.4 1034.5,629.4 1033.5,629.3 1032.5,629.3 1031.5,629.3 1030.5,629.2 1029.5,629.2 1028.5,629.2 1027.5,629.1 1026.5,629.1 1025.5,629.1 1024.5,629 1023.5,629 1022.5,629 1021.5,628.9 1020.5,628.9 1020,628.9 1019.5,628.9 1018.5,628.8 1017.5,628.8 1016.5,628.8 1015.5,628.7 1014.5,628.7 1013.5,628.7 1012.5,628.6 1011.5,628.6 1010.5,628.6 1010,628.6 1009.5,628.5 1008.5,628.5 1007.5,628.5 1006.5,628.4 1005.5,628.4 1004.5,628.4 1003.5,628.3 1002.5,628.3 1001.5,628.3 1001.2,628.3 1000.5,628.2 999.5,628.2 998.5,628.2 997.5,628.1 996.5,628.1 995.5,628.1 994.5,628 993.8,628 993.5,628" fill="#f44336" fill-opacity="0.12"/>
<polygon points="1088.5,628.2 1089.5,625.2 1090,623.8 1090.5,623.5 1091.5,623 1092.5,622.5 1093.5,622 1094.5,621.5 1095.5,621 1096.5,620.5 1097.5,620 1098.5,619.3 1099.5,618.6 1100.5,617.9 1101.5,617.2 1102.5,616.5 1103.5,615.8 1104.5,615.1 1105.5,614.4 1106.5,613.7 1107.5,613 1108.5,612.9 1109.5,612.9 1110.5,612.8 1111.5,612.7 1112.5,612.6 1113.5,612.6 1114.5,612.5 1115.5,612.4 1116.5,612.3 1117.5,612.3 1118.5,612.2 1119.5,612.1 1120.5,612.1 1121.2,612 1121.5,611.6 1122.5,610.1 1123.5,608.6 1124.5,607.1 1125.5,605.5 1126.5,604 1127.5,602.5 1128.5,600.7 1129.5,599 1130.5,597.2 1131.5,595.4 1132.5,593.6 1133.5,591.9 1134.5,590.1 1135.5,588.3 1136.2,587 1136.5,587 1137.5,586.8 1138.5,586.7 1139.5,586.5 1140.5,586.4 1141.5,586.2 1142.5,586.1 1143.5,585.9 1144.5,585.8 1145.5,585.7 1146.5,585.5 1147.5,585.4 1148.5,585.2 1149.5,585.1 1150,585 1150.5,585 1151.5,584.9 1152.5,584.9 1153.5,584.8 1154.5,584.8 1155.5,584.7 1156.5,584.6 1157.5,584.6 1158.5,584.5 1159.5,584.5 1160.5,584.4 1161.5,584.4 1162.5,584.3 1163.5,584.2 1164.5,584.2 1165.5,584.1 1166.5,584.1 1167.5,584 1168.5,584 1169.5,583.9 1170.5,583.9 1171.5,583.8 1172.5,583.8 1173.5,584.1 1174.5,584.5 1175.5,585 1176.5,585.4 1177.5,585.8 1178.5,586.1 1179.5,586.5 1180,586.8 1180.5,586.8 1181.5,586.8 1182.5,586.8 1183.5,586.8 1184.5,586.8 1185.5,586.8 1186.2,586.8 1186.5,586.8 1187.5,587 1188.5,587.3 1189.5,587.5 1190.5,587.8 1191.5,588 1192.5,588.2 1193.5,588.5 1194.5,588.7 1195.5,588.9 1196.5,589.2 1197.5,589.4 1198.5,589.6 1199.5,589.9 1200,590 1200.5,589.9 1201.5,589.6 1202.5,589.3 1203.5,589 1204.5,588.7 1205.5,588.4 1206.5,588.1 1207.5,587.9 1208.5,587.6 1208.8,587.5 1209.5,586.4 1210.5,585 1211.5,583.6 1212.5,582.1 1213.5,580.7 1214.5,579.3 1215.5,577.9 1216.5,576.4 1217.5,575 1218.5,574.5 1219.5,574 1220.5,573.5 1221.5,573 1222.5,572.5 1223.5,572 1224.5,571.5 1225,571.2 1225.5,570.9 1226.5,570.1 1227.5,569.4 1228.5,568.6 1229.5,567.9 1230.5,567.1 1231.5,566.4 1232.5,565.6 1233.5,564.9 1234.5,564.1 1235.5,563.4 1236.5,562.6 1237.5,561.9 1238.5,561.1 1239.5,560.4 1240,560 1240.5,558.7 1241.5,556.1 1242.5,553.5 1243.5,550.9 1244.5,548.3 1245.5,545.7 1246.2,543.8 1246.5,543 1247.5,540 1248.5,537 1249.5,534 1250,532.5 1250.5,531.5 1251.5,529.5 1252.5,527.5 1253.5,525.5 1254.5,523.5 1255,522.5 1255.5,521.5 1256.5,519.5 1257.5,517.5 1258.5,515.5 1259.5,513.5 1260,512.5 1260.5,511.6 1261.5,509.8 1262,508.9 1262.5,508 1263.5,507.9 1264.5,507.9 1265.5,507.9 1266.5,507.8 1267.5,507.8 1268.5,507.7 1269.5,507.6 1270.5,507.6 1271.5,507.6 1272.5,507.5 1273.5,507.4 1274.5,507.4 1275.5,507.4 1276.2,507.3 1276.5,507.3 1277.5,507.2 1278.5,507.2 1279.5,507.1 1280.5,507.1 1281.5,507.1 1282.5,507 1283.5,506.4 1283.8,506.2 1284.5,504.4 1285,503.1 1285.5,501.9 1286.2,500 1286.5,499.9 1287.5,499.4 1288.5,498.9 1289.5,498.4 1290.5,498 1291.5,497.5 1292.5,497 1293.5,496.4 1294.5,495.9 1295.5,495.4 1296.5,494.8 1297.5,494.2 1298.5,493.7 1299.5,493.1 1300.5,492.6 1301.5,492.1 1302.5,491.5 1303.5,490.9 1304.5,490.4 1305.5,489.9 1306.5,489.3 1307.5,488.8 1308.5,487.2 1309.5,485.8 1310.5,484.2 1311.5,482.8 1312.5,481.2 1313.5,479.8 1314.5,478.2 1315,477.5 1315.5,477.4 1316.5,477.2 1317.5,477.1 1318.5,476.9 1319.5,476.8 1320.5,476.6 1321.5,476.4 1322.5,476.2 1323.5,476.1 1324.5,475.9 1325.5,475.6 1326.5,475.4 1327.5,475.2 1328.5,475.1 1328.8,475 1329.5,473.9 1330.5,472.5 1331.5,471.1 1332.5,469.6 1333.5,468.2 1334.5,466.8 1335.5,465.4 1336.5,463.9 1337.5,462.5 1338.5,462.5 1339.5,462.4 1340.5,462.4 1341.5,462.4 1342.5,462.3 1343.5,462.3 1344.5,462.3 1345.5,462.2 1346.5,462.2 1347.5,462.2 1348.5,462.1 1349.5,462.1 1350.5,462.1 1351.5,462 1352.5,462 1353.5,462 1354.5,462 1355.5,462 1356.5,462 1357.5,462 1358.5,462 1359.5,462 1360.5,462 1361.5,462 1362.5,462 1363.5,462 1364.5,462 1365.5,462 1366.5,462 1367.5,462 1368.5,461.7 1369.5,461.5 1370.5,461.2 1371.5,461 1372.5,460.7 1373.5,460.4 1374.5,460.2 1375.5,459.9 1376.5,459.7 1377.5,459.4 1378.5,459.1 1379.5,458.9 1380,458.8 1380.5,458.3 1381.5,457.4 1382.5,456.5 1383.5,455.6 1384.5,454.6 1385.5,453.7 1386.5,452.8 1387.5,451.9 1388.5,451 1388.8,450.8 1389.5,450.8 1390,450.8 1390.5,450.9 1391.5,450.9 1392.5,451 1393.5,451 1394.5,451.1 1395.5,451.1 1396.2,451.2 1396.5,451.2 1397.5,451.2 1398.5,451.4 1399.5,451.5 1400.5,451.6 1401.5,451.7 1402.5,451.8 1403.5,451.9 1403.8,452 1404.5,452.1 1405.5,452.2 1406.5,452.3 1407.5,452.4 1408.5,452.5 1409.5,452.6 1410.5,452.8 1411.5,452.9 1412.5,453 1413.5,452.8 1414.5,452.5 1415.5,452.3 1416.5,452.1 1417.5,451.8 1418.5,451.6 1419.5,451.4 1420,451.2 1420.5,450.9 1421.5,450.4 1422.5,449.8 1423.5,449.1 1424.5,448.6 1425.5,447.9 1426.2,447.5 1426.5,447.4 1427.5,447 1428.5,446.6 1429.5,446.2 1430.5,445.8 1431.5,445.4 1432.5,445 1433.5,444.6 1433.8,444.5 1434.5,443.8 1435.5,442.8 1436.5,441.8 1437.5,440.8 1438.5,439.8 1439.5,438.8 1440.5,437.8 1441.2,437 1441.5,437.2 1442.5,438 1443.5,438.8 1444.5,439.6 1445.5,440.4 1446.5,441.2 1447.5,442 1448.5,442.8 1448.8,443 1449.5,442.6 1450.5,442.2 1451.5,441.7 1452.5,441.2 1453.5,440.8 1454.5,440.3 1455.5,439.9 1456.2,439.5 1456.5,439.5 1457.5,439.5 1458.5,439.4 1459.5,439.4 1460.5,439.4 1461.5,439.3 1462.5,439.3 1463.5,439.3 1463.8,439.2 1464.5,440.3 1465.5,441.6 1466.5,443 1467.5,444.4 1468.5,445.7 1469.5,447.1 1470.5,448.5 1471.2,449.5 1471.5,449.5 1472.5,449.5 1473.5,449.5 1474.5,449.5 1475.5,449.5 1476.5,449.5 1477.5,449.5 1478.5,449.5 1479.5,449.5 1480.5,449.5 1481.5,449.5 1482.5,449.5 1483.5,449.5 1484.5,449.5 1485.5,449.5 1486.5,449.5 1487.5,449.5 1488.5,449.5 1489.5,449.5 1490.5,449.5 1491.5,449.5 1492.5,449.5 1493.5,449.5 1493.8,449.5 1493.8,449.5 1493.8,493.8 1493.8,493.8 1493.5,493.8 1492.5,493.8 1491.5,493.8 1490.5,493.8 1489.5,493.8 1488.5,493.8 1487.5,493.8 1486.5,493.8 1485.5,493.8 1484.5,493.8 1483.5,493.8 1482.5,493.8 1481.5,493.8 1480.5,493.8 1479.5,493.8 1478.5,493.8 1477.5,493.8 1476.5,493.8 1475.5,493.8 1474.5,493.8 1473.5,493.8 1472.5,493.8 1471.5,493.8 1471.2,493.8 1470.5,493.8 1469.5,493.8 1468.5,493.8 1467.5,493.8 1466.5,493.8 1465.5,493.8 1464.5,493.8 1463.8,493.8 1463.5,493.8 1462.5,493.8 1461.5,493.8 1460.5,493.8 1459.5,493.8 1458.5,493.8 1457.5,493.8 1456.5,493.8 1456.2,493.8 1455.5,493.9 1454.5,494.1 1453.5,494.3 1452.5,494.6 1451.5,494.8 1450.5,495 1449.5,495.2 1448.8,495.4 1448.5,495.4 1447.5,495.6 1446.5,495.9 1445.5,496.1 1444.5,496.3 1443.5,496.5 1442.5,496.7 1441.5,496.9 1441.2,497 1440.5,497.1 1439.5,497.1 1438.5,497.2 1437.5,497.2 1436.5,497.3 1435.5,497.4 1434.5,497.4 1433.8,497.5 1433.5,497.6 1432.5,498 1431.5,498.4 1430.5,498.8 1429.5,499.2 1428.5,499.6 1427.5,500 1426.5,500.4 1426.2,500.5 1425.5,502.2 1424.5,504.6 1423.5,506.9 1422.5,509.2 1421.5,511.5 1420.5,513.8 1420,515 1419.5,515.4 1418.5,516.1 1417.5,516.8 1416.5,517.6 1415.5,518.3 1414.5,519 1413.5,519.8 1412.5,520.5 1411.5,523.3 1410.5,526.1 1409.5,528.9 1408.5,531.7 1407.5,534.5 1406.5,537.3 1405.5,540.1 1404.5,542.9 1403.8,545 1403.5,545.6 1402.5,548 1401.5,550.4 1400.5,552.8 1399.5,555.2 1398.5,557.6 1397.5,560 1396.5,562.4 1396.2,563 1395.5,563.1 1394.5,563.4 1393.5,563.5 1392.5,563.8 1391.5,564 1390.5,564.1 1390,564.2 1389.5,564.3 1388.8,564.3 1388.5,564.3 1387.5,564.3 1386.5,564.3 1385.5,564.3 1384.5,564.3 1383.5,564.3 1382.5,564.3 1381.5,564.3 1380.5,564.3 1380,564.3 1379.5,564.3 1378.5,564.3 1377.5,564.3 1376.5,564.3 1375.5,564.3 1374.5,564.3 1373.5,564.3 1372.5,564.3 1371.5,564.3 1370.5,564.3 1369.5,564.3 1368.5,564.4 1367.5,564.4 1366.5,564.4 1365.5,564.4 1364.5,564.4 1363.5,564.4 1362.5,564.4 1361.5,564.4 1360.5,564.4 1359.5,564.4 1358.5,564.4 1357.5,564.4 1356.5,564.4 1355.5,564.4 1354.5,564.4 1353.5,564.4 1352.5,564.4 1351.5,564.4 1350.5,564.4 1349.5,564.4 1348.5,564.4 1347.5,564.5 1346.5,564.5 1345.5,564.5 1344.5,564.5 1343.5,564.5 1342.5,564.5 1341.5,564.5 1340.5,564.5 1339.5,564.5 1338.5,564.5 1337.5,564.5 1336.5,565.8 1335.5,567.2 1334.5,568.5 1333.5,569.9 1332.5,571.2 1331.5,572.6 1330.5,573.9 1329.5,575.2 1328.8,576.2 1328.5,576.2 1327.5,576.2 1326.5,576.2 1325.5,576.2 1324.5,576.2 1323.5,576.2 1322.5,576.2 1321.5,576.2 1320.5,576.2 1319.5,576.2 1318.5,576.2 1317.5,576.2 1316.5,576.2 1315.5,576.2 1315,576.2 1314.5,576.2 1313.5,576.2 1312.5,576.2 1311.5,576.2 1310.5,576.2 1309.5,576.2 1308.5,576.2 1307.5,576.2 1306.5,576.2 1305.5,576.2 1304.5,576.2 1303.5,576.2 1302.5,576.2 1301.5,576.2 1300.5,576.2 1299.5,576.2 1298.5,576.2 1297.5,576.2 1296.5,576.2 1295.5,576.2 1294.5,576.2 1293.5,576.2 1292.5,576.2 1291.5,576.2 1290.5,576.2 1289.5,576.2 1288.5,576.2 1287.5,576.2 1286.5,576.2 1286.2,576.2 1285.5,576.2 1285,576.2 1284.5,576.8 1283.8,577.7 1283.5,578 1282.5,579.1 1281.5,580.2 1280.5,581.4 1279.5,582.5 1278.5,583.7 1277.5,584.8 1276.5,586 1276.2,586.2 1275.5,586.2 1274.5,586.2 1273.5,586.2 1272.5,586.2 1271.5,586.2 1270.5,586.2 1269.5,586.2 1268.5,586.2 1267.5,586.2 1266.5,586.2 1265.5,586.2 1264.5,586.2 1263.5,586.2 1262.5,586.2 1262,586.2 1261.5,587.8 1260.5,590.9 1260,592.5 1259.5,594 1258.5,597.1 1257.5,600.2 1256.5,603.3 1255.5,606.4 1255,608 1254.5,608 1253.5,608.1 1252.5,608.2 1251.5,608.4 1250.5,608.5 1250,608.5 1249.5,608.5 1248.5,608.6 1247.5,608.8 1246.5,610.9 1246.2,611.5 1245.5,613.1 1244.5,615.2 1243.5,617.4 1242.5,619.6 1241.5,621.8 1240.5,623.9 1240,625 1239.5,625 1238.5,625 1237.5,625 1236.5,625 1235.5,625 1234.5,625 1233.5,625 1232.5,625 1231.5,625 1230.5,625 1229.5,625 1228.5,625 1227.5,625 1226.5,625 1225.5,625 1225,625 1224.5,625 1223.5,625 1222.5,625 1221.5,625 1220.5,625 1219.5,625 1218.5,625 1217.5,625 1216.5,625 1215.5,625 1214.5,625 1213.5,625 1212.5,625 1211.5,625 1210.5,625 1209.5,625 1208.8,625 1208.5,625 1207.5,625 1206.5,625 1205.5,625 1204.5,625 1203.5,625 1202.5,625 1201.5,625 1200.5,625 1200,625 1199.5,625 1198.5,625 1197.5,625 1196.5,625 1195.5,625 1194.5,625 1193.5,625 1192.5,625 1191.5,625 1190.5,625 1189.5,625 1188.5,625 1187.5,625 1186.5,625 1186.2,625 1185.5,625 1184.5,625 1183.5,625 1182.5,625 1181.5,625 1180.5,625 1180,625 1179.5,625 1178.5,625 1177.5,625 1176.5,625 1175.5,625 1174.5,625 1173.5,625 1172.5,625 1171.5,625 1170.5,625 1169.5,625 1168.5,625 1167.5,625 1166.5,625 1165.5,625 1164.5,625 1163.5,625 1162.5,625 1161.5,625 1160.5,625 1159.5,625 1158.5,625 1157.5,625 1156.5,625 1155.5,625 1154.5,625 1153.5,625 1152.5,625 1151.5,625 1150.5,625 1150,625 1149.5,625 1148.5,625 1147.5,625 1146.5,625 1145.5,625 1144.5,625 1143.5,625 1142.5,625 1141.5,625 1140.5,625 1139.5,625 1138.5,625 1137.5,625 1136.5,625 1136.2,625 1135.5,625.4 1134.5,626 1133.5,626.6 1132.5,627.1 1131.5,627.7 1130.5,628.3 1129.5,628.9 1128.5,629.4 1127.5,630 1126.5,630 1125.5,630 1124.5,630 1123.5,630 1122.5,630 1121.5,630 1121.2,630 1120.5,630 1119.5,630 1118.5,630 1117.5,630 1116.5,630 1115.5,630 1114.5,630 1113.5,630 1112.5,630 1111.5,630 1110.5,630 1109.5,630 1108.5,630 1107.5,630 1106.5,630 1105.5,630 1104.5,630 1103.5,630 1102.5,630 1101.5,630 1100.5,630 1099.5,630 1098.5,630 1097.5,630 1096.5,630 1095.5,630 1094.5,630 1093.5,630 1092.5,630 1091.5,630 1090.5,630 1090,630 1089.5,630 1088.5,630" fill="#43a047" fill-opacity="0.1"/>
<polyline points="6.5,230 6.5,230 20,236.2 31.2,228.8 37.5,217.5 53.8,207 72.5,205.8 87.5,203.8 98.8,208.8 120,209.5 128.8,212.5 136.2,236.2 141.2,247.5 150,287.5 165,301.2 175,302.5 192.5,306.2 202.5,303.8 225,292 238.8,277 246.2,276.2 254.5,263 261.2,268.8 271.2,273.8 285,287.5 300,291.2 307.5,295 314.5,296.2 326.2,320 335,326.2 350,353.8 357.5,356.2 372.5,356.2 377.5,358.8 395,392.5 402.5,395 407.5,391.2 418.8,380 425,379.5 435,383.8 448.8,380.8 456.2,383.8 470,379.5 475,382.5 480,387.5 490,402.5 500,409.5 503.8,435 507.5,468.8 515,478.8 522.5,483.2 530,483.8 536.2,502.5 543.8,508.8 551.2,520 558.8,526.2 566.2,532.5 573.8,542.5 582.5,543.8 590,557.5 595,567.5 603.8,568.8 610,580 617.5,581.2 625,585 632.5,592.5 640,610 648.8,615 656.2,618 665,625 672.5,630 680,642.5 695,641.2 707.5,638.8 717.5,643.8 725,637.5 755,638.8 768.8,640 776.2,636.2 790,635 797.5,606.2 800,600 810,597 820,598 835,595 850,582.5 866.2,582 880,586.2 895,585 912.5,585 920,583.8 926.2,573.8 940,572.5 971.2,572 978.8,592.5 986.2,596.2 990,612.5 993.8,630 1001.2,645 1010,651.2 1020,653 1037.5,659.2 1046.2,657.5 1061.2,657 1076.2,652 1083.8,643.8 1086.2,635 1090,623.8 1097.5,620 1107.5,613 1121.2,612 1127.5,602.5 1136.2,587 1150,585 1172.5,583.8 1180,586.8 1186.2,586.8 1200,590 1208.8,587.5 1217.5,575 1225,571.2 1240,560 1246.2,543.8 1250,532.5 1260,512.5 1262.5,508 1282.5,507 1283.8,506.2 1286.2,500 1292.5,497 1307.5,488.8 1315,477.5 1322.5,476.2 1328.8,475 1337.5,462.5 1352.5,462 1367.5,462 1380,458.8 1388.8,450.8 1397.5,451.2 1412.5,453 1420,451.2 1426.2,447.5 1433.8,444.5 1441.2,437 1448.8,443 1456.2,439.5 1463.8,439.2 1471.2,449.5 1493.8,449.5" fill="none" stroke="#4caf50" stroke-width="1.3" stroke-opacity="0.8"/>
<polyline points="6.5,120.8 6.5,120.8 52.5,120.8 60,153.8 67.5,169.5 74.5,170 83.8,183 89.5,185.5 96.2,195 111.2,250 141.2,250 148.8,278 150,278 336.2,278 342.5,295 351.2,302 371.2,302.5 381.2,315.5 441.2,315.5 448.8,321.2 457.5,321.8 478.8,344.5 480,345 498.8,355 502.5,375 507.5,414.5 530,414.5 537.5,430 567.5,430 573.8,437.5 590,438 597.5,456.2 605,460.5 612.5,461.2 621.2,464.5 627.5,473 635,477 642.5,492.5 650,515 665,515 672.5,520.5 700,521.2 702.5,522 710,537 717.5,538.8 820,539.5 830,542.5 842.5,552.5 855,555.5 861.2,565 866.2,582.5 873.8,596.2 880,606.2 887.5,615 895,623.8 902.5,625 1053.8,630 1127.5,630 1136.2,625 1240,625 1247.5,608.8 1255,608 1262,586.2 1276.2,586.2 1285,576.2 1328.8,576.2 1337.5,564.5 1390,564.2 1396.2,563 1403.8,545 1412.5,520.5 1420,515 1426.2,500.5 1433.8,497.5 1441.2,497 1456.2,493.8 1493.8,493.8" fill="none" stroke="#f4605c" stroke-width="1.3" stroke-opacity="0.85"/>
<text x="1003.6" y="189.9" text-anchor="end" font-family="'Liberation Sans', 'Noto Sans CJK TC', sans-serif" font-size="11.6" fill="#262626">1.809(1857.915)</text>
<text x="1003.6" y="233.4" text-anchor="end" font-family="'Liberation Sans', 'Noto Sans CJK TC', sans-serif" font-size="11.6" fill="#262626">1.618(1843.754)</text>
<text x="1003.6" y="260.4" text-anchor="end" font-family="'Liberation Sans', 'Noto Sans CJK TC', sans-serif" font-size="11.6" fill="#262626">1.5(1835.005)</text>
<text x="1003.6" y="287.5" text-anchor="end" font-family="'Liberation Sans', 'Noto Sans CJK TC', sans-serif" font-size="11.6" fill="#262626">1.382(1826.256)</text>
<text x="1003.6" y="321" text-anchor="end" font-family="'Liberation Sans', 'Noto Sans CJK TC', sans-serif" font-size="11.6" fill="#262626">1.236(1815.432)</text>
<text x="1003.6" y="375.2" text-anchor="end" font-family="'Liberation Sans', 'Noto Sans CJK TC', sans-serif" font-size="11.6" fill="#262626">1(1797.934)</text>
<text x="1003.6" y="419" text-anchor="end" font-family="'Liberation Sans', 'Noto Sans CJK TC', sans-serif" font-size="11.6" fill="#262626">0.809(1783.773)</text>
<text x="1003.6" y="444.1" text-anchor="end" font-family="'Liberation Sans', 'Noto Sans CJK TC', sans-serif" font-size="11.6" fill="#262626">0.7(1775.691)</text>
<text x="1003.6" y="462.9" text-anchor="end" font-family="'Liberation Sans', 'Noto Sans CJK TC', sans-serif" font-size="11.6" fill="#262626">0.618(1769.612)</text>
<text x="1003.6" y="490" text-anchor="end" font-family="'Liberation Sans', 'Noto Sans CJK TC', sans-serif" font-size="11.6" fill="#262626">0.5(1760.863)</text>
<text x="1003.6" y="517.1" text-anchor="end" font-family="'Liberation Sans', 'Noto Sans CJK TC', sans-serif" font-size="11.6" fill="#262626">0.382(1752.114)</text>
<text x="1003.6" y="550.6" text-anchor="end" font-family="'Liberation Sans', 'Noto Sans CJK TC', sans-serif" font-size="11.6" fill="#262626">0.236(1741.290)</text>
<text x="1003.6" y="604.7" text-anchor="end" font-family="'Liberation Sans', 'Noto Sans CJK TC', sans-serif" font-size="11.6" fill="#262626">0(1723.792)</text>
<polyline points="7,278 58.8,278 67.5,283.8 75,285 87.5,295.5 96.2,305 101.2,308.8 110,310 148.8,310 156.2,325 165.5,333.2 166.2,333 182.5,333.8 185,335.5 194.5,346.8 195,346.2 235,347 240,350.5 247.5,359.2 255,360 262.5,370 270,384.5 280,385 287.5,387.5 295,391.2 300,392 314.5,400 316.2,422.5 320,450 321.2,462.5 328.8,475 343.8,475.5 351.2,490.8 381.2,491.2 387.5,499.2 402,499.2 410,516.2 417.5,521.2 438.8,522 446.2,528.8 453.8,546.2 461.2,553.8 471.2,554.5 478.8,562.5 486.2,582.5 493.8,600 500,610 507.5,617.5 515,623.8 522.5,625 528.8,640 532.5,652.5 542.5,654.5 560,655 582.5,656.2 590,653.8 605,653.2 612.5,637.5 620,631.2 642.5,630.8 650,626.2 657.5,612.5 665,598 672.5,597 680,597 725,597 732.5,594.5 738.8,567.5 746.2,565.8 785,565.8 790,580 796.2,587.5 800,591.2 803.8,615 807.5,630 816.2,633.8 820,642.5 855,643 858.8,646.2 932.5,646.2 941.2,640 1016.2,640 1023.8,612.5 1031.2,582.5 1040,570 1046.2,562.5 1053.8,560 1061.2,541.2 1068.8,538.8 1072.5,520 1075,516.2 1076.2,516.2 1090,515 1097.5,506.2 1138.8,505 1146.2,503.8 1150,495 1160,493 1195,493 1202.5,481.2 1210,480 1225,480 1232.5,476.2 1240,467.5 1247.5,457.5 1251.2,447.5 1255,437.5 1262.5,434.5 1275,433.8 1281.2,437.5 1285,443 1307.5,443" fill="none" stroke="#8e2a2a" stroke-width="1.4"/>
<polyline points="7,335 15,327.5 30,310 37.5,307.5 52.5,274.5 59.5,273.8 67,247 71.2,245.5 80,255 90,269.5 105,270 111.2,273 120,282 127.5,282.5 133.8,303.8 141.2,340 148.8,346.2 156.2,360 165.5,377.5 185,379.5 193.8,392.5 202.5,412.5 206.2,430 209.2,440 216.2,442 223.8,428.8 231.2,414.5 238.8,408.8 253.8,408.2 261.2,400 268.8,383.8 276.2,380 283.8,372.5 287.5,375 295,390 300,402.5 307.5,413.8 313.8,420 317.5,440 320,465 322,478.8 328.8,483 336.2,491.2 343.8,492 351.2,512.5 358.8,536.2 366.2,553.8 373.8,562.5 381.2,571.2 387.5,585 396.2,587 403.8,610 410,631.2 417.5,638 432.5,638.8 440,645 445,657.5 450,672.5 456.2,681.2 470,682.5 477.5,685.8 485,685.8 492.5,681.2 500,676.2 507.5,663.8 515,657 522.5,651.2 528.8,642.5 535,627.5 538.8,622 575,622 582.5,625.5 590,619.5 597.5,619.5 605,617 608.8,590 616.2,563.8 621.2,561.2 627.5,562 635,566.2 672.5,566.2 683.8,571.2 688.8,572 695,578.8 700,572.5 708.8,571.2 723.8,571.2 731.2,576.2 738.8,578.8 746.2,577 783.8,577 787.5,585 791.2,600 800,605 803.8,620 807.5,642.5 812.5,657.5 813.8,658 825,658.8 836.2,663.8 843.8,670 851.2,675 858.8,668.8 873.8,668 881.2,664.5 888.8,658.8 893.8,647.5 897.5,625 901.2,610 903.8,603.8 911.2,592.5 918.8,585 926.2,576.2 933.8,573.8 941.2,560 948.8,547.5 956.2,544.5 971.2,543.8 978.8,543 1001.2,543.8 1008.8,553.8 1016.2,555 1023.8,562.5 1031.2,568.8 1038.8,568.8 1046.2,562.5 1053.8,560 1061.2,538.8 1068.8,535 1071.2,510 1072.5,512.5 1075,502.5 1090,501.2 1097.5,491.2 1105,487.5 1112.5,480 1120,470 1127.5,452.5 1131.2,448 1142.5,441.2 1146.2,435 1151.2,432 1180,432 1187.5,428.8 1193.8,422 1200,421.2 1215,425 1221.2,426.2 1225,428.8 1232.5,427.5 1243.8,428 1251.2,432.5 1255,436.2 1262.5,450 1270,445 1277,445 1281.2,448.8 1285,454.5 1291.2,455.5 1307.5,455.5" fill="none" stroke="#2f9bf0" stroke-width="1.5"/>
<path d="M1285 443H1307.5" stroke="#a03030" stroke-width="1.6"/>
<path d="M29.6 223.8V273M52 205V263.8M59.5 235V266.2M74.4 235.5V307.5M81.9 286.2V312M89.4 297.5V340M111.8 293.8V322.5M134.2 293.8V383.8M141.6 327.5V405M149.1 387.5V413M156.6 390V452.5M164 418.8V467M186.4 414.5V470.5M193.9 442.5V481.2M246.2 326.2V356.2M253.6 338V386.2M268.6 340.5V410M283.5 355V390M291 368V438M298.4 406.2V482.5M305.9 430V502.5M320.8 485V628.8M335.8 496.2V586.2M343.2 548V620M350.7 592.5V660M373.1 553.8V588.8M380.6 570V657M388 603.8V676.2M403 610V662.5M410.4 612.5V712M417.9 685V722M425.4 677.5V722M447.8 652V730M455.2 692.5V753M485.1 622V648.8M515 558V597.5M522.4 583.8V622M529.9 595V632M537.4 625V685.5M552.3 576.2V605M582.2 567.5V601.2M589.6 555V600M604.6 565V595.5M627 521.2V600M641.9 568.8V593M664.3 536.2V580M671.8 549.5V595M686.7 559.5V585M701.6 557.5V606.2M716.6 570V596.2M739 565V603.8M746.4 541.2V614.5M753.9 590V610M761.4 582.5V615M776.3 578.8V601.2M783.8 590V613.8M791.2 602.5V664.5M798.7 637.5V667M806.2 655V747.5M821.1 723.8V749.5M865.9 588.8V607.5M873.4 600V616.2M910.7 545V570M918.2 550V586.2M955.5 503.8V522.5M963 518V571.2M977.9 540V565M992.8 560V596.2M1000.3 568V595M1022.7 528.8V550M1037.6 543V580.5M1082.4 427V458.8M1097.4 402V450M1104.8 443.8V476.2M1119.8 447.5V485.5M1157.1 384.5V402.5M1164.6 388.8V427.5M1172 408V441.2M1194.4 384.5V464.5M1209.4 423.8V468.8M1239.2 416.2V447.5M1246.7 442.5V476.2M1254.2 459.5V489.5M1276.6 414.5V458.8M1284 432.5V507M1291.5 453.8V479.5" stroke="#ef5350" stroke-width="1" fill="none"/>
<path d="M7.2 250V280.5M14.7 240V282.5M22.2 221.2V253.8M37.1 231.2V266.2M44.6 200V255M67 224.5V260M96.8 276.2V333.8M104.3 287.5V298.8M119.2 306.2V322.5M126.7 293.8V318.8M171.5 416.2V446.2M179 404.5V438M201.4 420V472M208.8 397.5V438.8M216.3 401.2V432.5M223.8 363.8V405.5M231.2 332V392M238.7 323.8V347.5M261.1 328V356.2M276 353.8V423.8M313.4 463.8V511.2M328.3 518V580M358.2 568.8V640M365.6 560V618.8M395.5 618.8V661.2M432.8 658V708M440.3 637V673M462.7 708V742.5M470.2 633.8V718.8M477.6 617.5V646.2M492.6 608.8V656.2M500 598.8V637.5M507.5 570V610M544.8 591.2V680.5M559.8 578.8V615M567.2 573.8V612.5M574.7 573.8V590M597.1 566.2V590.5M612 523.8V607.5M619.5 510V543.8M634.4 568.8V622.5M649.4 541.2V586.2M656.8 537V577M679.2 553.8V586.2M694.2 549.5V573.8M709.1 575V608M724 562.5V595M731.5 560.5V582.5M768.8 567V607.5M813.6 717V739.5M828.6 713.8V748M836 634.5V722.5M843.5 637V664.5M851 619.5V650M858.4 587.5V624.5M880.8 577.5V612M888.3 569.5V597.5M895.8 560V596.2M903.2 541.2V576.2M925.6 547.5V575M933.1 556.2V576.2M940.6 523.8V560M948 500V536.2M970.4 537.5V572.5M985.4 546.2V580M1007.8 555V606.2M1015.2 531.2V570M1030.2 528.8V555M1045.1 557.5V576.2M1052.6 520V560M1060 466.2V538.8M1067.5 477.5V497.5M1075 421.2V491.2M1089.9 422.5V450M1112.3 447V477M1127.2 433.8V477.5M1134.7 419.5V445M1142.2 407.5V442.5M1149.6 378.8V423M1179.5 404.5V425M1187 386.2V428.8M1201.9 418.8V453.8M1216.8 426.2V457.5M1224.3 421.2V453.8M1231.8 416.2V446.2M1261.6 426.2V475M1269.1 403V430.5M1299 453.8V480M1306.4 457.5V483.8" stroke="#26a69a" stroke-width="1" fill="none"/>
<path d="M27.1 226.2h5v26.2h-5zM49.5 213.8h5v24.2h-5zM57 238h5v20.8h-5zM71.9 237h5v56h-5zM79.4 293h5v5.8h-5zM86.9 298h5v25h-5zM109.3 294.2h5v23.2h-5zM131.7 306.2h5v76.2h-5zM139.1 381.2h5v8.8h-5zM146.6 389.5h5v8h-5zM154.1 397h5v40h-5zM161.5 436.5h5v9.8h-5zM183.9 415h5v32h-5zM191.4 446.2h5v11.2h-5zM243.7 332h5v10.5h-5zM251.1 342.5h5v12h-5zM266.1 342h5v60h-5zM281 355.5h5v14.5h-5zM288.5 368.8h5v61.8h-5zM295.9 430h5v33.8h-5zM303.4 462.5h5v31.2h-5zM318.3 490.8h5v85h-5zM333.3 523.8h5v46.8h-5zM340.7 570h5v35.5h-5zM348.2 604.5h5v31h-5zM370.6 562h5v18h-5zM378.1 579.5h5v64.2h-5zM385.5 643h5v5.8h-5zM400.5 625h5v7.5h-5zM407.9 632h5v57.5h-5zM415.4 689.5h5v2h-5zM422.9 691.2h5v10.8h-5zM445.3 657h5v43.8h-5zM452.7 700h5v33.8h-5zM482.6 632h5v10h-5zM512.5 571.2h5v18.2h-5zM519.9 588.8h5v23.8h-5zM527.4 611.2h5v14.2h-5zM534.9 625.5h5v40.8h-5zM549.8 598h5v2h-5zM579.7 575h5v7h-5zM587.1 581.2h5v2.5h-5zM602.1 567h5v25h-5zM624.5 527h5v63h-5zM639.4 569.5h5v7.5h-5zM661.8 542h5v8h-5zM669.3 550h5v33h-5zM684.2 561.2h5v9.2h-5zM699.1 559.5h5v38.5h-5zM714.1 578h5v4.5h-5zM736.5 570.5h5v19h-5zM743.9 589h5v11h-5zM751.4 598.8h5v2.5h-5zM758.9 600h5v5.5h-5zM773.8 580h5v15.5h-5zM781.3 595h5v12.5h-5zM788.7 607.5h5v38h-5zM796.2 645h5v12.5h-5zM803.7 657h5v73h-5zM818.6 728.8h5v20h-5zM863.4 589.2h5v17h-5zM870.9 605.8h5v4.2h-5zM908.2 547h5v14.2h-5zM915.7 560.8h5v3.8h-5zM953 509.5h5v11h-5zM960.5 520h5v43.8h-5zM975.4 545.5h5v17h-5zM990.3 561.8h5v18.8h-5zM997.8 580h5v9.5h-5zM1020.2 540.8h5v8h-5zM1035.1 543.8h5v25h-5zM1079.9 432h5v14.2h-5zM1094.9 439.5h5v6.8h-5zM1102.3 445.5h5v15h-5zM1117.3 457h5v10h-5zM1154.6 391.2h5v1.5h-5zM1162.1 392h5v27.5h-5zM1169.5 418h5v3.2h-5zM1191.9 391.2h5v51.8h-5zM1206.9 433h5v12h-5zM1236.7 425h5v20h-5zM1244.2 444.5h5v16.8h-5zM1251.7 461.2h5v5.8h-5zM1274.1 418h5v16.5h-5zM1281.5 433.8h5v25h-5zM1289 458.8h5v10h-5z" fill="#ef5350"/>
<path d="M4.7 276.2h5v3.8h-5zM12.2 247.5h5v29.5h-5zM19.7 226.2h5v21.2h-5zM34.6 238.8h5v13.8h-5zM42.1 213.8h5v25.8h-5zM64.5 237.5h5v21.2h-5zM94.3 295.5h5v27.5h-5zM101.8 293.8h5v2.5h-5zM116.7 313.8h5v3.8h-5zM124.2 306.2h5v8.2h-5zM169 422h5v24.2h-5zM176.5 415.5h5v7h-5zM198.9 423h5v34.5h-5zM206.3 421.2h5v2.5h-5zM213.8 403.8h5v18.2h-5zM221.3 380h5v25h-5zM228.7 341.2h5v39.2h-5zM236.2 332h5v10h-5zM258.6 342h5v13h-5zM273.5 355.5h5v46.5h-5zM310.9 490.5h5v3.2h-5zM325.8 523.8h5v52h-5zM355.7 596.2h5v39.2h-5zM363.1 562h5v34.2h-5zM393 625h5v23.8h-5zM430.3 671.2h5v30.8h-5zM437.8 657h5v15.5h-5zM460.2 715.8h5v18h-5zM467.7 640h5v77h-5zM475.1 632h5v8.5h-5zM490.1 619.5h5v22.5h-5zM497.5 598.8h5v21.2h-5zM505 570.5h5v29h-5zM542.3 597.5h5v68.8h-5zM557.3 585h5v15h-5zM564.7 583h5v3.2h-5zM572.2 575h5v8.8h-5zM594.6 567h5v16.8h-5zM609.5 540.5h5v51.5h-5zM617 527h5v14.2h-5zM631.9 569.5h5v20.5h-5zM646.9 560.5h5v16.5h-5zM654.3 542h5v19.2h-5zM676.7 562h5v21h-5zM691.7 559.5h5v11h-5zM706.6 577.5h5v20.5h-5zM721.5 575h5v7.5h-5zM729 570.5h5v5.8h-5zM766.3 580h5v25.5h-5zM811.1 728.8h5v3.2h-5zM826.1 721.2h5v25h-5zM833.5 659.2h5v62.5h-5zM841 646.2h5v13.2h-5zM848.5 623.2h5v23h-5zM855.9 588.8h5v35h-5zM878.3 594.5h5v15.5h-5zM885.8 570.5h5v24h-5zM893.3 569.5h5v1h-5zM900.7 547h5v23.5h-5zM923.1 563.8h5v1h-5zM930.6 558h5v6.5h-5zM938.1 535h5v23.8h-5zM945.5 509.5h5v26h-5zM967.9 545h5v18.8h-5zM982.9 561.2h5v1.2h-5zM1005.3 568.8h5v20.8h-5zM1012.7 540.8h5v28h-5zM1027.7 543.8h5v5.5h-5zM1042.6 558.8h5v10h-5zM1050.1 537.5h5v22h-5zM1057.5 483.8h5v54.2h-5zM1065 480h5v4.5h-5zM1072.5 432h5v49.2h-5zM1087.4 439.5h5v6.8h-5zM1109.8 457h5v3.5h-5zM1124.7 437h5v30h-5zM1132.2 429.5h5v8.5h-5zM1139.7 413.8h5v16.2h-5zM1147.1 390h5v24.5h-5zM1177 418.8h5v2.5h-5zM1184.5 391.2h5v28.8h-5zM1199.4 433h5v10h-5zM1214.3 430h5v15h-5zM1221.8 428.2h5v2.2h-5zM1229.3 425h5v4.2h-5zM1259.1 428.8h5v38.2h-5zM1266.6 418h5v11.5h-5zM1296.5 466.5h5v2.2h-5zM1303.9 459.5h5v7.5h-5z" fill="#26a69a"/>
<rect x="948.7" y="499.5" width="59.3" height="108.5" fill="#2196f3" fill-opacity="0.2"/>
<path d="M948.7 499.5H1008M948.7 608H1008M977.5 499.5V607M973 602l4.5 5l4.5 -5" stroke="#3d9cf0" stroke-width="1.1" fill="none"/>
<rect x="1158" y="378.7" width="126.5" height="128.3" fill="#2196f3" fill-opacity="0.2"/>
<path d="M1158 378.7H1284.5M1158 507H1284.5M1220.7 378.7V506M1215.5 500.5l5.2 5.5l5.2 -5.5" stroke="#3d9cf0" stroke-width="1.1" fill="none"/>
<line x1="6.5" y1="459.4" x2="1525" y2="459.4" stroke="#26a69a" stroke-width="1" stroke-dasharray="1.2 2.6"/>
<line x1="6.5" y1="236" x2="1525" y2="236" stroke="#ff9800" stroke-width="2"/>
<line x1="6.5" y1="263.6" x2="1525" y2="263.6" stroke="#ff9800" stroke-width="2"/>
<line x1="6.5" y1="292" x2="1525" y2="292" stroke="#ff9800" stroke-width="2"/>
<line x1="6.5" y1="324.4" x2="1525" y2="324.4" stroke="#ff9800" stroke-width="2"/>
<line x1="6.5" y1="507.4" x2="1525" y2="507.4" stroke="#ff9800" stroke-width="2"/>
<text x="821.7" y="770.6" text-anchor="middle" font-family="'Liberation Sans', 'Noto Sans CJK TC', sans-serif" font-size="10.5" font-weight="bold" fill="#f44336">(2)</text>
<text x="1411.8" y="251.4" text-anchor="middle" font-family="'Liberation Sans', 'Noto Sans CJK TC', sans-serif" font-size="10.5" font-weight="bold" fill="#f44336">(5)</text>
<rect x="902" y="618" width="152" height="23.3" rx="3" fill="#ef5350"/>
<text x="978" y="634" text-anchor="middle" font-family="'Liberation Sans', 'Noto Sans CJK TC', sans-serif" font-size="12" font-weight="bold" fill="#fff" textLength="135" lengthAdjust="spacingAndGlyphs">−34.932 (−1.99%) −3493.2</text>
<rect x="1145" y="518" width="152" height="23.3" rx="3" fill="#ef5350"/>
<text x="1221" y="534" text-anchor="middle" font-family="'Liberation Sans', 'Noto Sans CJK TC', sans-serif" font-size="12" font-weight="bold" fill="#fff" textLength="135" lengthAdjust="spacingAndGlyphs">−41.802 (−2.33%) −4180.2</text>
<path fill="#ff0000" d="M1479.8 296.2C1477 294.6 1474 294.2 1471.5 294.3C1466 294.5 1462.9 300 1462.9 307C1462.9 314 1467 323.4 1473 323.4C1475.5 323.4 1477 322.1 1479.6 322.1C1482.2 322.1 1483.5 323.4 1486.3 323.4C1490 323.4 1493 317 1494.1 313.3C1490.5 312 1488.4 309 1488.4 305.5C1488.4 302.3 1490 299.5 1492.6 297.8C1491 295.6 1488.5 294.3 1486 294.3C1483.5 294.3 1481.5 295.4 1479.8 296.2ZM1478.4 294.2C1478 290.6 1481.5 286.4 1486 285.7C1486.5 289.6 1483 293.8 1478.4 294.2Z"/>
<text x="15" y="66.3" font-family="'DejaVu Sans Mono', 'Liberation Mono', 'Noto Sans CJK TC', monospace" font-size="11.45" fill="#3c3c3c" xml:space="preserve"><tspan font-size="13.75">黃金</tspan> / <tspan font-size="13.75">美元</tspan>, 8<tspan font-size="13.75">小時</tspan>, OANDA</text>
<text x="15" y="83" font-family="'DejaVu Sans Mono', 'Liberation Mono', 'Noto Sans CJK TC', monospace" font-size="11.45" fill="#4a4a4a" xml:space="preserve">Ichimoku (9, 26, 52, 26)</text>
</g>
<path d="M1525 42.5V843.5M6.5 816.3H1593.5" stroke="#dcdcdc" stroke-width="1" fill="none"/>
<text x="1534.5" y="809.9" font-family="'Liberation Sans', 'Noto Sans CJK TC', sans-serif" font-size="12" fill="#4a4a4a" textLength="47.5" lengthAdjust="spacingAndGlyphs">1660.000</text>
<text x="1534.5" y="779" font-family="'Liberation Sans', 'Noto Sans CJK TC', sans-serif" font-size="12" fill="#4a4a4a" textLength="47.5" lengthAdjust="spacingAndGlyphs">1670.000</text>
<text x="1534.5" y="748" font-family="'Liberation Sans', 'Noto Sans CJK TC', sans-serif" font-size="12" fill="#4a4a4a" textLength="47.5" lengthAdjust="spacingAndGlyphs">1680.000</text>
<text x="1534.5" y="717" font-family="'Liberation Sans', 'Noto Sans CJK TC', sans-serif" font-size="12" fill="#4a4a4a" textLength="47.5" lengthAdjust="spacingAndGlyphs">1690.000</text>
<text x="1534.5" y="686.1" font-family="'Liberation Sans', 'Noto Sans CJK TC', sans-serif" font-size="12" fill="#4a4a4a" textLength="47.5" lengthAdjust="spacingAndGlyphs">1700.000</text>
<text x="1534.5" y="655.1" font-family="'Liberation Sans', 'Noto Sans CJK TC', sans-serif" font-size="12" fill="#4a4a4a" textLength="47.5" lengthAdjust="spacingAndGlyphs">1710.000</text>
<text x="1534.5" y="624.2" font-family="'Liberation Sans', 'Noto Sans CJK TC', sans-serif" font-size="12" fill="#4a4a4a" textLength="47.5" lengthAdjust="spacingAndGlyphs">1720.000</text>
<text x="1534.5" y="593.2" font-family="'Liberation Sans', 'Noto Sans CJK TC', sans-serif" font-size="12" fill="#4a4a4a" textLength="47.5" lengthAdjust="spacingAndGlyphs">1730.000</text>
<text x="1534.5" y="562.3" font-family="'Liberation Sans', 'Noto Sans CJK TC', sans-serif" font-size="12" fill="#4a4a4a" textLength="47.5" lengthAdjust="spacingAndGlyphs">1740.000</text>
<text x="1534.5" y="531.3" font-family="'Liberation Sans', 'Noto Sans CJK TC', sans-serif" font-size="12" fill="#4a4a4a" textLength="47.5" lengthAdjust="spacingAndGlyphs">1750.000</text>
<text x="1534.5" y="500.3" font-family="'Liberation Sans', 'Noto Sans CJK TC', sans-serif" font-size="12" fill="#4a4a4a" textLength="47.5" lengthAdjust="spacingAndGlyphs">1760.000</text>
<text x="1534.5" y="469.4" font-family="'Liberation Sans', 'Noto Sans CJK TC', sans-serif" font-size="12" fill="#4a4a4a" textLength="47.5" lengthAdjust="spacingAndGlyphs">1770.000</text>
<text x="1534.5" y="438.4" font-family="'Liberation Sans', 'Noto Sans CJK TC', sans-serif" font-size="12" fill="#4a4a4a" textLength="47.5" lengthAdjust="spacingAndGlyphs">1780.000</text>
<text x="1534.5" y="407.5" font-family="'Liberation Sans', 'Noto Sans CJK TC', sans-serif" font-size="12" fill="#4a4a4a" textLength="47.5" lengthAdjust="spacingAndGlyphs">1790.000</text>
<text x="1534.5" y="376.5" font-family="'Liberation Sans', 'Noto Sans CJK TC', sans-serif" font-size="12" fill="#4a4a4a" textLength="47.5" lengthAdjust="spacingAndGlyphs">1800.000</text>
<text x="1534.5" y="345.6" font-family="'Liberation Sans', 'Noto Sans CJK TC', sans-serif" font-size="12" fill="#4a4a4a" textLength="47.5" lengthAdjust="spacingAndGlyphs">1810.000</text>
<text x="1534.5" y="314.6" font-family="'Liberation Sans', 'Noto Sans CJK TC', sans-serif" font-size="12" fill="#4a4a4a" textLength="47.5" lengthAdjust="spacingAndGlyphs">1820.000</text>
<text x="1534.5" y="283.6" font-family="'Liberation Sans', 'Noto Sans CJK TC', sans-serif" font-size="12" fill="#4a4a4a" textLength="47.5" lengthAdjust="spacingAndGlyphs">1830.000</text>
<text x="1534.5" y="252.7" font-family="'Liberation Sans', 'Noto Sans CJK TC', sans-serif" font-size="12" fill="#4a4a4a" textLength="47.5" lengthAdjust="spacingAndGlyphs">1840.000</text>
<text x="1534.5" y="221.7" font-family="'Liberation Sans', 'Noto Sans CJK TC', sans-serif" font-size="12" fill="#4a4a4a" textLength="47.5" lengthAdjust="spacingAndGlyphs">1850.000</text>
<text x="1534.5" y="190.8" font-family="'Liberation Sans', 'Noto Sans CJK TC', sans-serif" font-size="12" fill="#4a4a4a" textLength="47.5" lengthAdjust="spacingAndGlyphs">1860.000</text>
<text x="1534.5" y="159.8" font-family="'Liberation Sans', 'Noto Sans CJK TC', sans-serif" font-size="12" fill="#4a4a4a" textLength="47.5" lengthAdjust="spacingAndGlyphs">1870.000</text>
<text x="1534.5" y="128.9" font-family="'Liberation Sans', 'Noto Sans CJK TC', sans-serif" font-size="12" fill="#4a4a4a" textLength="47.5" lengthAdjust="spacingAndGlyphs">1880.000</text>
<text x="1534.5" y="97.9" font-family="'Liberation Sans', 'Noto Sans CJK TC', sans-serif" font-size="12" fill="#4a4a4a" textLength="47.5" lengthAdjust="spacingAndGlyphs">1890.000</text>
<text x="1534.5" y="66.9" font-family="'Liberation Sans', 'Noto Sans CJK TC', sans-serif" font-size="12" fill="#4a4a4a" textLength="47.5" lengthAdjust="spacingAndGlyphs">1900.000</text>
<path d="M1525 805.6h3.5M1525 774.7h3.5M1525 743.7h3.5M1525 712.7h3.5M1525 681.8h3.5M1525 650.8h3.5M1525 619.9h3.5M1525 588.9h3.5M1525 558h3.5M1525 527h3.5M1525 496h3.5M1525 465.1h3.5M1525 434.1h3.5M1525 403.2h3.5M1525 372.2h3.5M1525 341.3h3.5M1525 310.3h3.5M1525 279.3h3.5M1525 248.4h3.5M1525 217.4h3.5M1525 186.5h3.5M1525 155.5h3.5M1525 124.6h3.5M1525 93.6h3.5M1525 62.6h3.5" stroke="#c8c8c8" stroke-width="1"/>
<text x="104.4" y="833.8" text-anchor="middle" font-family="'Liberation Sans', 'Noto Sans CJK TC', sans-serif" font-size="11.2" fill="#444">15</text>
<text x="216.4" y="833.8" text-anchor="middle" font-family="'Liberation Sans', 'Noto Sans CJK TC', sans-serif" font-size="11.2" fill="#444">22</text>
<text x="328.4" y="833.8" text-anchor="middle" font-family="'Liberation Sans', 'Noto Sans CJK TC', sans-serif" font-size="11.2" font-weight="500" fill="#444">三月</text>
<text x="440.4" y="833.8" text-anchor="middle" font-family="'Liberation Sans', 'Noto Sans CJK TC', sans-serif" font-size="11.2" fill="#444">8</text>
<text x="552.4" y="833.8" text-anchor="middle" font-family="'Liberation Sans', 'Noto Sans CJK TC', sans-serif" font-size="11.2" fill="#444">15</text>
<text x="664.4" y="833.8" text-anchor="middle" font-family="'Liberation Sans', 'Noto Sans CJK TC', sans-serif" font-size="11.2" fill="#444">22</text>
<text x="754.4" y="833.8" text-anchor="middle" font-family="'Liberation Sans', 'Noto Sans CJK TC', sans-serif" font-size="11.2" fill="#444">26</text>
<text x="844.4" y="833.8" text-anchor="middle" font-family="'Liberation Sans', 'Noto Sans CJK TC', sans-serif" font-size="11.2" font-weight="500" fill="#444">四月</text>
<text x="978.4" y="833.8" text-anchor="middle" font-family="'Liberation Sans', 'Noto Sans CJK TC', sans-serif" font-size="11.2" fill="#444">12</text>
<text x="1090.4" y="833.8" text-anchor="middle" font-family="'Liberation Sans', 'Noto Sans CJK TC', sans-serif" font-size="11.2" fill="#444">19</text>
<text x="1202.4" y="833.8" text-anchor="middle" font-family="'Liberation Sans', 'Noto Sans CJK TC', sans-serif" font-size="11.2" fill="#444">26</text>
<text x="1314.4" y="833.8" text-anchor="middle" font-family="'Liberation Sans', 'Noto Sans CJK TC', sans-serif" font-size="11.2" font-weight="500" fill="#444">五月</text>
<text x="1426.4" y="833.8" text-anchor="middle" font-family="'Liberation Sans', 'Noto Sans CJK TC', sans-serif" font-size="11.2" fill="#444">10</text>
<path d="M105 816.3v3M217 816.3v3M329 816.3v3M441 816.3v3M553 816.3v3M665 816.3v3M755 816.3v3M845 816.3v3M979 816.3v3M1091 816.3v3M1203 816.3v3M1315 816.3v3M1427 816.3v3" stroke="#c8c8c8" stroke-width="1"/>
<rect x="1524.5" y="228.2" width="63.7" height="16" fill="#ff9800"/>
<path d="M1524.5 236h4.5" stroke="#222" stroke-width="1.3"/>
<text x="1535" y="240.4" font-family="'Liberation Sans', 'Noto Sans CJK TC', sans-serif" font-size="12" fill="#1c1c1c" textLength="46.5" lengthAdjust="spacingAndGlyphs">1843.907</text>
<rect x="1524.5" y="255.8" width="63.7" height="16" fill="#ff9800"/>
<path d="M1524.5 263.6h4.5" stroke="#222" stroke-width="1.3"/>
<text x="1535" y="268" font-family="'Liberation Sans', 'Noto Sans CJK TC', sans-serif" font-size="12" fill="#1c1c1c" textLength="46.5" lengthAdjust="spacingAndGlyphs">1835.000</text>
<rect x="1524.5" y="284.2" width="63.7" height="16" fill="#ff9800"/>
<path d="M1524.5 292h4.5" stroke="#222" stroke-width="1.3"/>
<text x="1535" y="296.4" font-family="'Liberation Sans', 'Noto Sans CJK TC', sans-serif" font-size="12" fill="#1c1c1c" textLength="46.5" lengthAdjust="spacingAndGlyphs">1825.809</text>
<rect x="1524.5" y="316.6" width="63.7" height="16" fill="#ff9800"/>
<path d="M1524.5 324.4h4.5" stroke="#222" stroke-width="1.3"/>
<text x="1535" y="328.8" font-family="'Liberation Sans', 'Noto Sans CJK TC', sans-serif" font-size="12" fill="#1c1c1c" textLength="46.5" lengthAdjust="spacingAndGlyphs">1815.332</text>
<rect x="1524.5" y="499.6" width="63.7" height="16" fill="#ff9800"/>
<path d="M1524.5 507.4h4.5" stroke="#222" stroke-width="1.3"/>
<text x="1535" y="511.8" font-family="'Liberation Sans', 'Noto Sans CJK TC', sans-serif" font-size="12" fill="#1c1c1c" textLength="46.5" lengthAdjust="spacingAndGlyphs">1756.132</text>
<rect x="1524.5" y="451.3" width="63.7" height="16.6" fill="#26a69a"/>
<path d="M1524.5 459.5h4.5" stroke="#fff" stroke-width="1.3"/>
<text x="1535" y="464" font-family="'Liberation Sans', 'Noto Sans CJK TC', sans-serif" font-size="12" font-weight="bold" fill="#fff" textLength="47" lengthAdjust="spacingAndGlyphs">1771.945</text>
<rect x="1546.5" y="50" width="25.2" height="17" rx="3" fill="#fff" stroke="#dfe2e8" stroke-width="1"/>
<text x="1559.2" y="62.3" text-anchor="middle" font-family="'Liberation Sans', 'Noto Sans CJK TC', sans-serif" font-size="10" fill="#444">USD</text>
<rect x="6.5" y="42.5" width="1587" height="801" fill="none" stroke="#2e2e2e" stroke-width="1.2"/>
<path d="M5.9 844.2H1594.1" stroke="#2e2e2e" stroke-width="0.8"/>
<text x="6" y="19" font-family="'DejaVu Sans Mono', 'Liberation Mono', 'Noto Sans CJK TC', monospace" font-size="11.45" fill="#3c3c3c" xml:space="preserve">peterfei168 <tspan font-size="13.75">發表在</tspan>TradingView.com, <tspan font-size="13.75">五月</tspan> 02, 2021 22:14:05 CST</text>
<text x="6" y="35" font-family="'DejaVu Sans Mono', 'Liberation Mono', 'Noto Sans CJK TC', monospace" font-size="11.45" fill="#3c3c3c" xml:space="preserve">OANDA:XAUUSD, 480 1771.945</text>
<text x="199.8" y="35" font-family="'DejaVu Sans Mono', 'Liberation Mono', 'Noto Sans CJK TC', monospace" font-size="11.45" fill="#3c3c3c" xml:space="preserve">-0.055 (0%)</text>
<text x="279.2" y="35" font-family="'DejaVu Sans Mono', 'Liberation Mono', 'Noto Sans CJK TC', monospace" font-size="11.45" fill="#3c3c3c" xml:space="preserve">O:</text>
<text x="294.5" y="35" font-family="'DejaVu Sans Mono', 'Liberation Mono', 'Noto Sans CJK TC', monospace" font-size="11.45" fill="#ef5350" xml:space="preserve">1769.456</text>
<text x="352.4" y="35" font-family="'DejaVu Sans Mono', 'Liberation Mono', 'Noto Sans CJK TC', monospace" font-size="11.45" fill="#3c3c3c" xml:space="preserve">H:</text>
<text x="367.9" y="35" font-family="'DejaVu Sans Mono', 'Liberation Mono', 'Noto Sans CJK TC', monospace" font-size="11.45" fill="#ef5350" xml:space="preserve">1772.360</text>
<text x="426" y="35" font-family="'DejaVu Sans Mono', 'Liberation Mono', 'Noto Sans CJK TC', monospace" font-size="11.45" fill="#3c3c3c" xml:space="preserve">L:</text>
<text x="441.9" y="35" font-family="'DejaVu Sans Mono', 'Liberation Mono', 'Noto Sans CJK TC', monospace" font-size="11.45" fill="#ef5350" xml:space="preserve">1764.310</text>
<text x="500.4" y="35" font-family="'DejaVu Sans Mono', 'Liberation Mono', 'Noto Sans CJK TC', monospace" font-size="11.45" fill="#3c3c3c" xml:space="preserve">C:</text>
<text x="514.9" y="35" font-family="'DejaVu Sans Mono', 'Liberation Mono', 'Noto Sans CJK TC', monospace" font-size="11.45" fill="#ef5350" xml:space="preserve">1771.945</text>
<path d="M185.6 25h9.8l-4.9 9z" fill="#e8413c"/>
<g transform="translate(5.8,854)"><g fill="#2196f3"><circle cx="4.7" cy="10.4" r="4.5"/><circle cx="11.6" cy="6.7" r="6.5"/><circle cx="20.4" cy="9.8" r="5.1"/><rect x="4.7" y="8" width="15.7" height="6.9"/></g><path d="M1.5 12.4L9.9 5.6L15.9 11.9L21.8 5.8" fill="none" stroke="#fff" stroke-width="1" stroke-linejoin="round"/><circle cx="9.9" cy="5.6" r="1.1" fill="#fff"/><circle cx="15.9" cy="11.9" r="1.1" fill="#fff"/></g>
<text x="33.5" y="866" font-family="'Liberation Sans', 'Noto Sans CJK TC', sans-serif" font-size="12.6" fill="#3a3f4a" textLength="69.5" lengthAdjust="spacingAndGlyphs">TradingView</text>
</svg>
</body></html>
